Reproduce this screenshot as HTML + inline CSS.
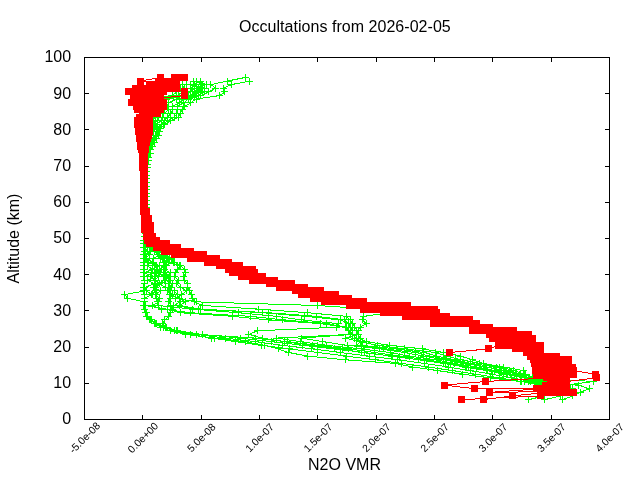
<!DOCTYPE html>
<html lang="en"><head><meta charset="utf-8"><title>Occultations from 2026-02-05</title>
<style>html,body{margin:0;padding:0;background:#fff}svg{display:block}text{font-family:"Liberation Sans",sans-serif;fill:#000}</style></head><body>
<svg width="640" height="480" viewBox="0 0 640 480">
<rect width="640" height="480" fill="#fff"/>
<g shape-rendering="crispEdges" fill="none" stroke-width="1">
<path stroke="#00ff00" d="M180.0 88.3L177.0 91.9L172.0 95.5L144.5 99.1L144.5 102.8L144.5 106.4L144.5 110.0L144.5 113.6L144.5 117.2L144.5 120.8L144.5 124.5L144.5 128.1L144.5 131.7L144.5 135.3L144.5 138.9L144.5 142.6L144.5 146.2L144.5 149.8L144.5 153.4L144.5 157.1L144.5 160.7L144.5 164.3L144.5 167.9L145.2 171.5L145.0 175.2L145.4 178.8L145.2 182.4L144.9 186.0L145.0 189.6L145.3 193.2L145.4 196.9L144.7 200.5L144.7 204.1L144.9 207.7L144.9 211.3L144.8 215.0L144.9 218.6L144.6 222.2L144.7 225.8L145.3 229.4L145.3 233.1L144.7 236.7L144.2 236.7L143.7 240.3L143.8 243.9L143.9 247.5L144.1 251.2L144.5 254.8L144.5 258.4L144.4 262.0L143.7 265.6L143.9 269.3L143.9 272.9L143.9 276.5L144.1 280.1L144.3 283.8L144.1 287.4L144.1 291.0L144.9 294.6L144.6 298.2L144.5 301.9L144.0 305.5L144.8 309.1L145.4 312.7L146.7 316.3L150.3 319.9L154.9 323.6L160.7 327.2L170.1 330.8L185.6 334.4L214.8 338.1L245.1 341.7L264.6 345.3L278.0 348.9L288.5 352.5L307.8 356.1L345.4 359.8L395.4 363.4L412.7 367.0L437.6 370.6L462.9 374.2L490.1 377.9L520.4 381.5L543.0 385.1L554.5 388.7L560.1 392.4L544.8 396.0L528.1 399.6M182.0 84.6L184.0 88.3L182.0 91.9L178.0 95.5L147.2 99.1L145.2 102.8L143.4 106.4L146.5 110.0L146.3 113.6L144.8 117.2L146.9 120.8L144.7 124.5L143.1 128.1L145.0 131.7L143.3 135.3L144.5 138.9L143.1 142.6L144.6 146.2L144.6 149.8L144.6 153.4L144.6 157.1L144.6 160.7L144.6 164.3L144.5 167.9L144.8 171.5L145.1 175.2L145.4 178.8L145.3 182.4L145.1 186.0L144.8 189.6L145.4 193.2L145.2 196.9L145.2 200.5L145.0 204.1L145.1 207.7L144.8 211.3L145.0 215.0L144.7 218.6L145.0 222.2L145.3 225.8L145.4 229.4L145.2 233.1L145.3 236.7L144.3 236.7L144.5 240.3L145.4 243.9L145.1 247.5L147.5 251.2L149.7 254.8L145.4 258.4L152.0 262.0L147.1 265.6L152.5 269.3L144.3 272.9L154.1 276.5L147.7 280.1L154.2 283.8L144.9 287.4L146.5 291.0L151.8 294.6L144.1 298.2L144.3 301.9L144.5 305.5L145.0 309.1L145.9 312.7L147.8 316.3L150.8 319.9L156.0 323.6L163.2 327.2L174.3 330.8L190.1 334.4L211.9 338.1L236.0 341.7L261.6 345.3L289.6 348.9L318.0 352.5L346.3 356.1L375.2 359.8L401.6 363.4L428.2 367.0L452.1 370.6L475.7 374.2L499.4 377.9L521.2 381.5L540.9 385.1L556.1 388.7L566.0 392.4L572.8 396.0L562.6 399.6M186.0 84.6L187.0 88.3L186.0 91.9L183.0 95.5L147.9 99.1L145.0 102.8L146.9 106.4L146.7 110.0L145.1 113.6L148.6 117.2L147.6 120.8L144.0 124.5L143.5 128.1L143.5 131.7L144.0 135.3L145.6 138.9L142.5 142.6L144.9 146.2L144.9 149.8L144.8 153.4L144.7 157.1L144.7 160.7L144.7 164.3L144.7 167.9L145.3 171.5L145.4 175.2L145.0 178.8L145.0 182.4L145.1 186.0L145.7 189.6L145.1 193.2L145.5 196.9L145.1 200.5L144.9 204.1L145.5 207.7L145.0 211.3L145.2 215.0L145.2 218.6L145.1 222.2L145.4 225.8L145.5 229.4L145.4 233.1L145.1 236.7L144.1 236.7L144.5 240.3L143.7 243.9L144.0 247.5L145.8 251.2L145.2 254.8L146.9 258.4L153.0 262.0L159.3 265.6L152.3 269.3L151.4 272.9L150.9 276.5L154.9 280.1L159.0 283.8L154.0 287.4L155.3 291.0L152.3 294.6L144.7 298.2L144.8 301.9L145.1 305.5L144.7 309.1L146.1 312.7L147.7 316.3L151.2 319.9L156.9 323.6L165.4 327.2L177.5 330.8L202.1 334.4L240.1 338.1L271.7 341.7L302.9 345.3L334.0 348.9L364.5 352.5L391.6 356.1L418.4 359.8L443.5 363.4L465.5 367.0L486.9 370.6L506.1 374.2L525.0 377.9L537.7 381.5L551.7 385.1L563.4 388.7L572.1 392.4M193.0 88.3L190.0 91.9L186.0 95.5L148.4 99.1L147.6 102.8L146.6 106.4L150.0 110.0L148.5 113.6L150.7 117.2L147.2 120.8L148.2 124.5L144.6 128.1L143.7 131.7L144.9 135.3L147.8 138.9L147.0 142.6L145.4 146.2L145.2 149.8L145.1 153.4L145.0 157.1L144.9 160.7L144.9 164.3L144.8 167.9L145.2 171.5L145.4 175.2L145.1 178.8L145.7 182.4L145.2 186.0L145.6 189.6L145.1 193.2L145.1 196.9L145.1 200.5L145.2 204.1L145.3 207.7L145.1 211.3L145.1 215.0L145.4 218.6L145.5 222.2L145.0 225.8L145.5 229.4L145.5 233.1L145.1 236.7L144.1 236.7L143.5 240.3L144.0 243.9L144.3 247.5L144.4 251.2L143.6 254.8L143.9 258.4L144.0 262.0L144.4 265.6L144.5 269.3L144.4 272.9L144.3 276.5L144.2 280.1L144.3 283.8L143.9 287.4L143.9 291.0L124.9 294.6L127.2 298.2L144.4 301.9L144.7 305.5L144.1 309.1L145.8 312.7L146.9 316.3L149.7 319.9L155.6 323.6L163.5 327.2L176.3 330.8L196.1 334.4L225.9 338.1L255.3 341.7L282.6 345.3L311.9 348.9L340.4 352.5L369.0 356.1L397.7 359.8L424.1 363.4L448.3 367.0L470.0 370.6L492.1 374.2L511.9 377.9L530.4 381.5L546.6 385.1L559.6 388.7M197.0 84.6L191.0 88.3L200.0 91.9L189.0 95.5L157.3 99.1L155.4 102.8L157.5 106.4L152.9 110.0L151.4 113.6L152.7 117.2L152.7 120.8L151.4 124.5L150.4 128.1L149.2 131.7L148.5 135.3L149.6 138.9L146.9 142.6L146.6 146.2L146.2 149.8L145.9 153.4L145.7 157.1L145.5 160.7L145.3 164.3L145.2 167.9L145.4 171.5L145.6 175.2L145.5 178.8L145.9 182.4L145.4 186.0L145.9 189.6L145.9 193.2L145.8 196.9L145.3 200.5L145.2 204.1L145.6 207.7L145.7 211.3L145.5 215.0L145.5 218.6L145.6 222.2L145.8 225.8L145.9 229.4L145.7 233.1L145.4 236.7L145.0 236.7L147.0 240.3L150.2 243.9L155.9 247.5L161.3 251.2L165.4 254.8L171.7 258.4L174.5 262.0L180.6 265.6L184.4 269.3L186.0 272.9L183.3 276.5L184.5 280.1L187.1 283.8L187.9 287.4L189.2 291.0L191.6 294.6L192.7 298.2L194.3 301.9L203.0 305.5L258.0 309.1L307.5 312.7L346.0 316.3L350.0 319.9L353.0 323.6L355.0 327.2L357.0 330.8L358.0 334.4L360.0 338.1L366.0 341.7L389.7 345.3L422.7 348.9L444.0 352.5L460.5 356.1L472.7 359.8L483.4 363.4L503.5 367.0L523.4 370.6L525.2 374.2L532.6 377.9L548.0 381.5L578.6 385.1L589.5 388.7L580.0 392.4L573.0 396.0L562.0 399.6M190.0 84.6L199.0 88.3L197.0 91.9L192.0 95.5L162.3 99.1L162.6 102.8L160.8 106.4L159.4 110.0L154.8 113.6L155.2 117.2L151.5 120.8L154.2 124.5L148.6 128.1L150.0 131.7L148.1 135.3L148.6 138.9L149.0 142.6L147.4 146.2L146.8 149.8L146.5 153.4L146.1 157.1L145.9 160.7L145.6 164.3L145.5 167.9L145.9 171.5L145.7 175.2L145.3 178.8L145.5 182.4L145.9 186.0L145.4 189.6L145.7 193.2L145.3 196.9L145.3 200.5L145.9 204.1L145.8 207.7L145.5 211.3L145.5 215.0L145.4 218.6L145.9 222.2L146.0 225.8L145.8 229.4L145.7 233.1L145.9 236.7L145.0 236.7L146.8 240.3L149.7 243.9L153.5 247.5L156.9 251.2L158.4 254.8L167.8 258.4L168.9 262.0L179.8 265.6L177.5 269.3L175.8 272.9L174.3 276.5L178.5 280.1L176.9 283.8L180.8 287.4L186.8 291.0L181.3 294.6L175.7 298.2L197.0 301.9L317.5 305.5L372.0 309.1L390.0 312.7L363.4 316.3L362.0 319.9L366.5 323.6L360.0 327.2L358.0 330.8L359.0 334.4L345.5 338.1L360.4 341.7L377.0 345.3L404.9 348.9L435.4 352.5L446.3 356.1L460.7 359.8L479.6 363.4L500.0 367.0L513.7 370.6L524.6 374.2L536.0 377.9L593.4 381.5L566.0 385.1L572.0 388.7L576.0 392.4M200.6 81.0L194.0 84.6L202.0 88.3L193.0 91.9L196.0 95.5L176.4 99.1L168.9 102.8L166.9 106.4L168.1 110.0L164.0 113.6L162.8 117.2L161.4 120.8L155.9 124.5L156.5 128.1L152.9 131.7L150.5 135.3L151.3 138.9L149.2 142.6L149.2 146.2L148.3 149.8L147.7 153.4L147.1 157.1L146.7 160.7L146.4 164.3L146.1 167.9L145.8 171.5L146.2 175.2L145.6 178.8L146.2 182.4L145.4 186.0L145.6 189.6L146.0 193.2L146.1 196.9L145.6 200.5L145.9 204.1L146.2 207.7L145.5 211.3L146.2 215.0L145.8 218.6L145.9 222.2L145.9 225.8L146.0 229.4L145.4 233.1L145.6 236.7L144.6 236.7L145.5 240.3L148.9 243.9L151.6 247.5L158.2 251.2L164.8 254.8L169.2 258.4L173.8 262.0L165.6 265.6L163.7 269.3L170.7 272.9L166.4 276.5L168.7 280.1L159.4 283.8L165.6 287.4L174.2 291.0L177.3 294.6L179.6 298.2L185.6 301.9L179.1 305.5L200.0 309.1L268.0 312.7L316.4 316.3L344.7 319.9L348.0 323.6L350.0 327.2L350.0 330.8L352.0 334.4L356.4 338.1L362.0 341.7L361.1 345.3L396.3 348.9L424.0 352.5L436.8 356.1L455.3 359.8L470.3 363.4L496.2 367.0L509.2 370.6L520.5 374.2L528.3 377.9L543.0 381.5L554.0 385.1L564.0 388.7L573.0 392.4L573.0 396.0M193.5 81.0L203.0 84.6L196.0 88.3L204.0 91.9L198.0 95.5L183.8 99.1L179.5 102.8L172.6 106.4L172.7 110.0L170.7 113.6L167.2 117.2L164.0 120.8L161.3 124.5L157.0 128.1L157.0 131.7L156.1 135.3L150.3 138.9L151.3 142.6L150.2 146.2L149.1 149.8L148.4 153.4L147.7 157.1L147.2 160.7L146.8 164.3L146.5 167.9L146.0 171.5L146.1 175.2L145.6 178.8L145.9 182.4L146.0 186.0L145.6 189.6L145.6 193.2L145.9 196.9L145.8 200.5L145.7 204.1L145.8 207.7L145.6 211.3L146.3 215.0L145.6 218.6L146.1 222.2L146.1 225.8L145.7 229.4L146.2 233.1L146.1 236.7L144.7 236.7L145.4 240.3L147.4 243.9L152.0 247.5L156.8 251.2L159.7 254.8L153.4 258.4L152.6 262.0L156.5 265.6L157.1 269.3L154.9 272.9L158.7 276.5L155.1 280.1L159.5 283.8L155.9 287.4L156.1 291.0L156.5 294.6L157.0 298.2L157.6 301.9L158.1 305.5L192.0 309.1L238.0 312.7L276.5 316.3L301.5 319.9L338.0 323.6L336.7 327.2L257.5 330.8L248.8 334.4L262.0 338.1L284.0 341.7L312.0 345.3L342.0 348.9L361.4 352.5L392.0 356.1L418.8 359.8L445.9 363.4L466.5 367.0L487.9 370.6L503.8 374.2L525.6 377.9L535.3 381.5L553.7 385.1L561.2 388.7L573.9 392.4M249.8 81.0L231.5 84.6L223.1 88.3L225.0 91.9L219.8 95.5L196.2 99.1L190.6 102.8L185.0 106.4L182.0 110.0L180.0 113.6L178.5 117.2L170.0 120.8L165.0 124.5L161.0 128.1L159.5 131.7L158.0 135.3L156.0 138.9L154.0 142.6L152.5 146.2L151.0 149.8L150.0 153.4L149.0 157.1L148.3 160.7L147.7 164.3L147.3 167.9L146.3 171.5L146.4 175.2L146.2 178.8L146.1 182.4L146.0 186.0L146.3 189.6L145.7 193.2L146.0 196.9L145.9 200.5L146.1 204.1L146.4 207.7L146.4 211.3L146.1 215.0L145.9 218.6L146.4 222.2L146.3 225.8L145.7 229.4L146.3 233.1L146.5 236.7L144.7 236.7L145.4 240.3L147.5 243.9L151.4 247.5L155.0 251.2L158.0 254.8L161.0 258.4L164.0 262.0L164.2 265.6L161.2 269.3L159.8 272.9L164.7 276.5L164.6 280.1L157.1 283.8L154.2 287.4L160.1 291.0L155.5 294.6L159.4 298.2L158.8 301.9L152.3 305.5L161.6 309.1L190.0 312.7L250.0 316.3L283.0 319.9L326.5 323.6L346.0 327.2L350.0 330.8L352.0 334.4L301.2 338.1L322.7 341.7L347.3 345.3L380.0 348.9L404.1 352.5L423.9 356.1L443.7 359.8L464.0 363.4L486.5 367.0L501.1 370.6L519.1 374.2L529.7 377.9L524.7 381.5L548.0 385.1L558.0 388.7L568.0 392.4M245.6 77.4L227.5 81.0L211.0 84.6L215.6 88.3L209.0 91.9L201.0 95.5L188.3 99.1L183.8 102.8L177.3 106.4L178.0 110.0L177.0 113.6L174.0 117.2L167.4 120.8L163.1 124.5L157.8 128.1L158.9 131.7L155.2 135.3L154.0 138.9L152.9 142.6L151.3 146.2L150.0 149.8L149.2 153.4L148.3 157.1L147.7 160.7L147.2 164.3L146.9 167.9L146.6 171.5L146.6 175.2L146.5 178.8L146.6 182.4L145.8 186.0L146.0 189.6L146.4 193.2L146.3 196.9L146.4 200.5L146.6 204.1L146.4 207.7L146.5 211.3L146.0 215.0L145.9 218.6L146.1 222.2L145.9 225.8L145.9 229.4L146.2 233.1L146.2 236.7L144.6 236.7L145.3 240.3L147.2 243.9L149.7 247.5L150.3 251.2L144.5 254.8L146.5 258.4L148.3 262.0L154.9 265.6L157.9 269.3L155.7 272.9L144.5 276.5L144.5 280.1L144.5 283.8L144.5 287.4L144.5 291.0L144.5 294.6L144.5 298.2L144.5 301.9L144.5 305.5L167.0 309.1L180.0 312.7L232.0 316.3L268.0 319.9L320.0 323.6L345.5 327.2L349.0 330.8L350.0 334.4L276.5 338.1L300.7 341.7L326.6 345.3L361.2 348.9L390.1 352.5L409.0 356.1L436.1 359.8L454.5 363.4L476.6 367.0L494.2 370.6L510.8 374.2L526.6 377.9L535.0 381.5L550.0 385.1L560.0 388.7L570.0 392.4L560.0 396.0L545.0 399.6M200.0 84.6L204.0 88.3L195.0 91.9L194.0 95.5L152.5 99.1L152.0 102.8L151.9 106.4L150.4 110.0L150.1 113.6L152.9 117.2L149.8 120.8L147.3 124.5L149.5 128.1L149.5 131.7L145.6 135.3L146.2 138.9L144.6 142.6L145.9 146.2L145.7 149.8L145.5 153.4L145.3 157.1L145.2 160.7L145.1 164.3L145.0 167.9L146.3 171.5L146.2 175.2L146.7 178.8L146.6 182.4L146.2 186.0L146.1 189.6L146.3 193.2L146.7 196.9L146.2 200.5L146.0 204.1L146.5 207.7L146.5 211.3L146.7 215.0L146.3 218.6L146.2 222.2L146.4 225.8L146.3 229.4L146.4 233.1L146.3 236.7L144.8 236.7L146.3 240.3L148.4 243.9L152.3 247.5L154.5 251.2L161.1 254.8L162.3 258.4L166.5 262.0L164.1 265.6L160.0 269.3L156.9 272.9L163.5 276.5L171.0 280.1L169.5 283.8L171.5 287.4L170.0 291.0L172.0 294.6L170.5 298.2L169.0 301.9L171.0 305.5L172.0 309.1L170.0 312.7L169.0 316.3L165.0 319.9L162.0 323.6L166.0 327.2L176.0 330.8L196.0 334.4L255.6 338.1L287.1 341.7L317.5 345.3L348.8 348.9L374.3 352.5L400.0 356.1L426.3 359.8L450.7 363.4L468.9 367.0L491.2 370.6L507.0 374.2L527.0 377.9L528.0 381.5L545.0 385.1L557.0 388.7L570.0 392.4M197.0 81.0L206.0 84.6L199.0 88.3L202.0 91.9L190.0 95.5L166.6 99.1L164.2 102.8L164.3 106.4L164.3 110.0L159.9 113.6L158.9 117.2L157.1 120.8L153.5 124.5L153.8 128.1L153.6 131.7L150.4 135.3L150.0 138.9L149.2 142.6L148.2 146.2L147.5 149.8L147.1 153.4L146.6 157.1L146.3 160.7L146.0 164.3L145.8 167.9L146.6 171.5L146.5 175.2L146.2 178.8L146.2 182.4L146.6 186.0L146.4 189.6L146.2 193.2L146.3 196.9L146.5 200.5L146.8 204.1L146.4 207.7L146.3 211.3L146.3 215.0L146.1 218.6L146.9 222.2L146.5 225.8L146.2 229.4L146.6 233.1L146.5 236.7L144.8 236.7L146.5 240.3L150.4 243.9L153.9 247.5L158.8 251.2L162.9 254.8L163.6 258.4L163.9 262.0L166.3 265.6L164.8 269.3L165.2 272.9L169.2 276.5L165.8 280.1L172.6 283.8L168.6 287.4L167.8 291.0L169.9 294.6L179.1 298.2L180.1 301.9L173.8 305.5L198.0 309.1L262.0 312.7L305.0 316.3L340.0 319.9L349.0 323.6L351.0 327.2L352.0 330.8L353.0 334.4L355.0 338.1L360.0 341.7L356.9 345.3L383.8 348.9L415.6 352.5L429.6 356.1L450.3 359.8L467.3 363.4L486.6 367.0L505.0 370.6L516.2 374.2L529.9 377.9L545.0 381.5L560.0 385.1L570.0 388.7L577.0 392.4"/>
<path stroke="#00ff00" d="M177.0 88.5h7M180.5 85.0v7M173.0 91.5h7M176.5 88.0v7M169.0 95.5h7M172.5 92.0v7M141.0 99.5h7M144.5 96.0v7M141.0 102.5h7M144.5 99.0v7M141.0 106.5h7M144.5 103.0v7M141.0 109.5h7M144.5 106.0v7M141.0 113.5h7M144.5 110.0v7M141.0 117.5h7M144.5 114.0v7M141.0 120.5h7M144.5 117.0v7M141.0 124.5h7M144.5 121.0v7M141.0 128.5h7M144.5 125.0v7M141.0 131.5h7M144.5 128.0v7M141.0 135.5h7M144.5 132.0v7M141.0 138.5h7M144.5 135.0v7M141.0 142.5h7M144.5 139.0v7M141.0 146.5h7M144.5 143.0v7M141.0 149.5h7M144.5 146.0v7M141.0 153.5h7M144.5 150.0v7M141.0 157.5h7M144.5 154.0v7M141.0 160.5h7M144.5 157.0v7M141.0 164.5h7M144.5 161.0v7M141.0 167.5h7M144.5 164.0v7M142.0 171.5h7M145.5 168.0v7M142.0 175.5h7M145.5 172.0v7M142.0 178.5h7M145.5 175.0v7M142.0 182.5h7M145.5 179.0v7M141.0 186.5h7M144.5 183.0v7M142.0 189.5h7M145.5 186.0v7M142.0 193.5h7M145.5 190.0v7M142.0 196.5h7M145.5 193.0v7M141.0 200.5h7M144.5 197.0v7M141.0 204.5h7M144.5 201.0v7M141.0 207.5h7M144.5 204.0v7M141.0 211.5h7M144.5 208.0v7M141.0 214.5h7M144.5 211.0v7M141.0 218.5h7M144.5 215.0v7M141.0 222.5h7M144.5 219.0v7M141.0 225.5h7M144.5 222.0v7M142.0 229.5h7M145.5 226.0v7M142.0 233.5h7M145.5 230.0v7M141.0 236.5h7M144.5 233.0v7M141.0 236.5h7M144.5 233.0v7M140.0 240.5h7M143.5 237.0v7M140.0 243.5h7M143.5 240.0v7M140.0 247.5h7M143.5 244.0v7M141.0 251.5h7M144.5 248.0v7M141.0 254.5h7M144.5 251.0v7M141.0 258.5h7M144.5 255.0v7M141.0 262.5h7M144.5 259.0v7M140.0 265.5h7M143.5 262.0v7M140.0 269.5h7M143.5 266.0v7M140.0 272.5h7M143.5 269.0v7M140.0 276.5h7M143.5 273.0v7M141.0 280.5h7M144.5 277.0v7M141.0 283.5h7M144.5 280.0v7M141.0 287.5h7M144.5 284.0v7M141.0 290.5h7M144.5 287.0v7M141.0 294.5h7M144.5 291.0v7M141.0 298.5h7M144.5 295.0v7M141.0 301.5h7M144.5 298.0v7M140.0 305.5h7M143.5 302.0v7M141.0 309.5h7M144.5 306.0v7M142.0 312.5h7M145.5 309.0v7M143.0 316.5h7M146.5 313.0v7M147.0 319.5h7M150.5 316.0v7M151.0 323.5h7M154.5 320.0v7M157.0 327.5h7M160.5 324.0v7M167.0 330.5h7M170.5 327.0v7M182.0 334.5h7M185.5 331.0v7M211.0 338.5h7M214.5 335.0v7M242.0 341.5h7M245.5 338.0v7M261.0 345.5h7M264.5 342.0v7M275.0 348.5h7M278.5 345.0v7M285.0 352.5h7M288.5 349.0v7M304.0 356.5h7M307.5 353.0v7M342.0 359.5h7M345.5 356.0v7M392.0 363.5h7M395.5 360.0v7M409.0 367.5h7M412.5 364.0v7M434.0 370.5h7M437.5 367.0v7M459.0 374.5h7M462.5 371.0v7M487.0 377.5h7M490.5 374.0v7M517.0 381.5h7M520.5 378.0v7M540.0 385.5h7M543.5 382.0v7M551.0 388.5h7M554.5 385.0v7M557.0 392.5h7M560.5 389.0v7M541.0 395.5h7M544.5 392.0v7M525.0 399.5h7M528.5 396.0v7M179.0 84.5h7M182.5 81.0v7M181.0 88.5h7M184.5 85.0v7M179.0 91.5h7M182.5 88.0v7M175.0 95.5h7M178.5 92.0v7M144.0 99.5h7M147.5 96.0v7M142.0 102.5h7M145.5 99.0v7M140.0 106.5h7M143.5 103.0v7M143.0 109.5h7M146.5 106.0v7M143.0 113.5h7M146.5 110.0v7M141.0 117.5h7M144.5 114.0v7M143.0 120.5h7M146.5 117.0v7M141.0 124.5h7M144.5 121.0v7M140.0 128.5h7M143.5 125.0v7M141.0 131.5h7M144.5 128.0v7M140.0 135.5h7M143.5 132.0v7M141.0 138.5h7M144.5 135.0v7M140.0 142.5h7M143.5 139.0v7M141.0 146.5h7M144.5 143.0v7M141.0 149.5h7M144.5 146.0v7M141.0 153.5h7M144.5 150.0v7M141.0 157.5h7M144.5 154.0v7M141.0 160.5h7M144.5 157.0v7M141.0 164.5h7M144.5 161.0v7M141.0 167.5h7M144.5 164.0v7M141.0 171.5h7M144.5 168.0v7M142.0 175.5h7M145.5 172.0v7M142.0 178.5h7M145.5 175.0v7M142.0 182.5h7M145.5 179.0v7M142.0 186.5h7M145.5 183.0v7M141.0 189.5h7M144.5 186.0v7M142.0 193.5h7M145.5 190.0v7M142.0 196.5h7M145.5 193.0v7M142.0 200.5h7M145.5 197.0v7M142.0 204.5h7M145.5 201.0v7M142.0 207.5h7M145.5 204.0v7M141.0 211.5h7M144.5 208.0v7M141.0 214.5h7M144.5 211.0v7M141.0 218.5h7M144.5 215.0v7M141.0 222.5h7M144.5 219.0v7M142.0 225.5h7M145.5 222.0v7M142.0 229.5h7M145.5 226.0v7M142.0 233.5h7M145.5 230.0v7M142.0 236.5h7M145.5 233.0v7M141.0 236.5h7M144.5 233.0v7M141.0 240.5h7M144.5 237.0v7M142.0 243.5h7M145.5 240.0v7M142.0 247.5h7M145.5 244.0v7M144.0 251.5h7M147.5 248.0v7M146.0 254.5h7M149.5 251.0v7M142.0 258.5h7M145.5 255.0v7M149.0 262.5h7M152.5 259.0v7M144.0 265.5h7M147.5 262.0v7M149.0 269.5h7M152.5 266.0v7M141.0 272.5h7M144.5 269.0v7M151.0 276.5h7M154.5 273.0v7M144.0 280.5h7M147.5 277.0v7M151.0 283.5h7M154.5 280.0v7M141.0 287.5h7M144.5 284.0v7M143.0 290.5h7M146.5 287.0v7M148.0 294.5h7M151.5 291.0v7M141.0 298.5h7M144.5 295.0v7M141.0 301.5h7M144.5 298.0v7M141.0 305.5h7M144.5 302.0v7M141.0 309.5h7M144.5 306.0v7M142.0 312.5h7M145.5 309.0v7M144.0 316.5h7M147.5 313.0v7M147.0 319.5h7M150.5 316.0v7M153.0 323.5h7M156.5 320.0v7M160.0 327.5h7M163.5 324.0v7M171.0 330.5h7M174.5 327.0v7M187.0 334.5h7M190.5 331.0v7M208.0 338.5h7M211.5 335.0v7M232.0 341.5h7M235.5 338.0v7M258.0 345.5h7M261.5 342.0v7M286.0 348.5h7M289.5 345.0v7M314.0 352.5h7M317.5 349.0v7M343.0 356.5h7M346.5 353.0v7M372.0 359.5h7M375.5 356.0v7M398.0 363.5h7M401.5 360.0v7M425.0 367.5h7M428.5 364.0v7M449.0 370.5h7M452.5 367.0v7M472.0 374.5h7M475.5 371.0v7M496.0 377.5h7M499.5 374.0v7M518.0 381.5h7M521.5 378.0v7M537.0 385.5h7M540.5 382.0v7M553.0 388.5h7M556.5 385.0v7M563.0 392.5h7M566.5 389.0v7M569.0 395.5h7M572.5 392.0v7M559.0 399.5h7M562.5 396.0v7M183.0 84.5h7M186.5 81.0v7M183.0 88.5h7M186.5 85.0v7M183.0 91.5h7M186.5 88.0v7M179.0 95.5h7M182.5 92.0v7M144.0 99.5h7M147.5 96.0v7M141.0 102.5h7M144.5 99.0v7M143.0 106.5h7M146.5 103.0v7M143.0 109.5h7M146.5 106.0v7M142.0 113.5h7M145.5 110.0v7M145.0 117.5h7M148.5 114.0v7M144.0 120.5h7M147.5 117.0v7M141.0 124.5h7M144.5 121.0v7M140.0 128.5h7M143.5 125.0v7M140.0 131.5h7M143.5 128.0v7M141.0 135.5h7M144.5 132.0v7M142.0 138.5h7M145.5 135.0v7M139.0 142.5h7M142.5 139.0v7M141.0 146.5h7M144.5 143.0v7M141.0 149.5h7M144.5 146.0v7M141.0 153.5h7M144.5 150.0v7M141.0 157.5h7M144.5 154.0v7M141.0 160.5h7M144.5 157.0v7M141.0 164.5h7M144.5 161.0v7M141.0 167.5h7M144.5 164.0v7M142.0 171.5h7M145.5 168.0v7M142.0 175.5h7M145.5 172.0v7M141.0 178.5h7M144.5 175.0v7M141.0 182.5h7M144.5 179.0v7M142.0 186.5h7M145.5 183.0v7M142.0 189.5h7M145.5 186.0v7M142.0 193.5h7M145.5 190.0v7M142.0 196.5h7M145.5 193.0v7M142.0 200.5h7M145.5 197.0v7M141.0 204.5h7M144.5 201.0v7M142.0 207.5h7M145.5 204.0v7M141.0 211.5h7M144.5 208.0v7M142.0 214.5h7M145.5 211.0v7M142.0 218.5h7M145.5 215.0v7M142.0 222.5h7M145.5 219.0v7M142.0 225.5h7M145.5 222.0v7M142.0 229.5h7M145.5 226.0v7M142.0 233.5h7M145.5 230.0v7M142.0 236.5h7M145.5 233.0v7M141.0 236.5h7M144.5 233.0v7M141.0 240.5h7M144.5 237.0v7M140.0 243.5h7M143.5 240.0v7M140.0 247.5h7M143.5 244.0v7M142.0 251.5h7M145.5 248.0v7M142.0 254.5h7M145.5 251.0v7M143.0 258.5h7M146.5 255.0v7M150.0 262.5h7M153.5 259.0v7M156.0 265.5h7M159.5 262.0v7M149.0 269.5h7M152.5 266.0v7M148.0 272.5h7M151.5 269.0v7M147.0 276.5h7M150.5 273.0v7M151.0 280.5h7M154.5 277.0v7M156.0 283.5h7M159.5 280.0v7M150.0 287.5h7M153.5 284.0v7M152.0 290.5h7M155.5 287.0v7M149.0 294.5h7M152.5 291.0v7M141.0 298.5h7M144.5 295.0v7M141.0 301.5h7M144.5 298.0v7M142.0 305.5h7M145.5 302.0v7M141.0 309.5h7M144.5 306.0v7M143.0 312.5h7M146.5 309.0v7M144.0 316.5h7M147.5 313.0v7M148.0 319.5h7M151.5 316.0v7M153.0 323.5h7M156.5 320.0v7M162.0 327.5h7M165.5 324.0v7M174.0 330.5h7M177.5 327.0v7M199.0 334.5h7M202.5 331.0v7M237.0 338.5h7M240.5 335.0v7M268.0 341.5h7M271.5 338.0v7M299.0 345.5h7M302.5 342.0v7M331.0 348.5h7M334.5 345.0v7M361.0 352.5h7M364.5 349.0v7M388.0 356.5h7M391.5 353.0v7M415.0 359.5h7M418.5 356.0v7M440.0 363.5h7M443.5 360.0v7M462.0 367.5h7M465.5 364.0v7M483.0 370.5h7M486.5 367.0v7M503.0 374.5h7M506.5 371.0v7M521.0 377.5h7M524.5 374.0v7M534.0 381.5h7M537.5 378.0v7M548.0 385.5h7M551.5 382.0v7M560.0 388.5h7M563.5 385.0v7M569.0 392.5h7M572.5 389.0v7M189.0 88.5h7M192.5 85.0v7M187.0 91.5h7M190.5 88.0v7M183.0 95.5h7M186.5 92.0v7M145.0 99.5h7M148.5 96.0v7M144.0 102.5h7M147.5 99.0v7M143.0 106.5h7M146.5 103.0v7M147.0 109.5h7M150.5 106.0v7M145.0 113.5h7M148.5 110.0v7M147.0 117.5h7M150.5 114.0v7M144.0 120.5h7M147.5 117.0v7M145.0 124.5h7M148.5 121.0v7M141.0 128.5h7M144.5 125.0v7M140.0 131.5h7M143.5 128.0v7M141.0 135.5h7M144.5 132.0v7M144.0 138.5h7M147.5 135.0v7M144.0 142.5h7M147.5 139.0v7M142.0 146.5h7M145.5 143.0v7M142.0 149.5h7M145.5 146.0v7M142.0 153.5h7M145.5 150.0v7M141.0 157.5h7M144.5 154.0v7M141.0 160.5h7M144.5 157.0v7M141.0 164.5h7M144.5 161.0v7M141.0 167.5h7M144.5 164.0v7M142.0 171.5h7M145.5 168.0v7M142.0 175.5h7M145.5 172.0v7M142.0 178.5h7M145.5 175.0v7M142.0 182.5h7M145.5 179.0v7M142.0 186.5h7M145.5 183.0v7M142.0 189.5h7M145.5 186.0v7M142.0 193.5h7M145.5 190.0v7M142.0 196.5h7M145.5 193.0v7M142.0 200.5h7M145.5 197.0v7M142.0 204.5h7M145.5 201.0v7M142.0 207.5h7M145.5 204.0v7M142.0 211.5h7M145.5 208.0v7M142.0 214.5h7M145.5 211.0v7M142.0 218.5h7M145.5 215.0v7M142.0 222.5h7M145.5 219.0v7M142.0 225.5h7M145.5 222.0v7M142.0 229.5h7M145.5 226.0v7M142.0 233.5h7M145.5 230.0v7M142.0 236.5h7M145.5 233.0v7M141.0 236.5h7M144.5 233.0v7M140.0 240.5h7M143.5 237.0v7M140.0 243.5h7M143.5 240.0v7M141.0 247.5h7M144.5 244.0v7M141.0 251.5h7M144.5 248.0v7M140.0 254.5h7M143.5 251.0v7M140.0 258.5h7M143.5 255.0v7M140.0 262.5h7M143.5 259.0v7M141.0 265.5h7M144.5 262.0v7M141.0 269.5h7M144.5 266.0v7M141.0 272.5h7M144.5 269.0v7M141.0 276.5h7M144.5 273.0v7M141.0 280.5h7M144.5 277.0v7M141.0 283.5h7M144.5 280.0v7M140.0 287.5h7M143.5 284.0v7M140.0 290.5h7M143.5 287.0v7M121.0 294.5h7M124.5 291.0v7M124.0 298.5h7M127.5 295.0v7M141.0 301.5h7M144.5 298.0v7M141.0 305.5h7M144.5 302.0v7M141.0 309.5h7M144.5 306.0v7M142.0 312.5h7M145.5 309.0v7M143.0 316.5h7M146.5 313.0v7M146.0 319.5h7M149.5 316.0v7M152.0 323.5h7M155.5 320.0v7M160.0 327.5h7M163.5 324.0v7M173.0 330.5h7M176.5 327.0v7M193.0 334.5h7M196.5 331.0v7M222.0 338.5h7M225.5 335.0v7M252.0 341.5h7M255.5 338.0v7M279.0 345.5h7M282.5 342.0v7M308.0 348.5h7M311.5 345.0v7M337.0 352.5h7M340.5 349.0v7M366.0 356.5h7M369.5 353.0v7M394.0 359.5h7M397.5 356.0v7M421.0 363.5h7M424.5 360.0v7M445.0 367.5h7M448.5 364.0v7M467.0 370.5h7M470.5 367.0v7M489.0 374.5h7M492.5 371.0v7M508.0 377.5h7M511.5 374.0v7M527.0 381.5h7M530.5 378.0v7M543.0 385.5h7M546.5 382.0v7M556.0 388.5h7M559.5 385.0v7M193.0 84.5h7M196.5 81.0v7M187.0 88.5h7M190.5 85.0v7M197.0 91.5h7M200.5 88.0v7M185.0 95.5h7M188.5 92.0v7M154.0 99.5h7M157.5 96.0v7M152.0 102.5h7M155.5 99.0v7M154.0 106.5h7M157.5 103.0v7M149.0 109.5h7M152.5 106.0v7M148.0 113.5h7M151.5 110.0v7M149.0 117.5h7M152.5 114.0v7M149.0 120.5h7M152.5 117.0v7M148.0 124.5h7M151.5 121.0v7M147.0 128.5h7M150.5 125.0v7M146.0 131.5h7M149.5 128.0v7M145.0 135.5h7M148.5 132.0v7M146.0 138.5h7M149.5 135.0v7M143.0 142.5h7M146.5 139.0v7M143.0 146.5h7M146.5 143.0v7M143.0 149.5h7M146.5 146.0v7M142.0 153.5h7M145.5 150.0v7M142.0 157.5h7M145.5 154.0v7M142.0 160.5h7M145.5 157.0v7M142.0 164.5h7M145.5 161.0v7M142.0 167.5h7M145.5 164.0v7M142.0 171.5h7M145.5 168.0v7M142.0 175.5h7M145.5 172.0v7M142.0 178.5h7M145.5 175.0v7M142.0 182.5h7M145.5 179.0v7M142.0 186.5h7M145.5 183.0v7M142.0 189.5h7M145.5 186.0v7M142.0 193.5h7M145.5 190.0v7M142.0 196.5h7M145.5 193.0v7M142.0 200.5h7M145.5 197.0v7M142.0 204.5h7M145.5 201.0v7M142.0 207.5h7M145.5 204.0v7M142.0 211.5h7M145.5 208.0v7M142.0 214.5h7M145.5 211.0v7M142.0 218.5h7M145.5 215.0v7M142.0 222.5h7M145.5 219.0v7M142.0 225.5h7M145.5 222.0v7M142.0 229.5h7M145.5 226.0v7M142.0 233.5h7M145.5 230.0v7M142.0 236.5h7M145.5 233.0v7M141.0 236.5h7M144.5 233.0v7M143.0 240.5h7M146.5 237.0v7M147.0 243.5h7M150.5 240.0v7M152.0 247.5h7M155.5 244.0v7M158.0 251.5h7M161.5 248.0v7M162.0 254.5h7M165.5 251.0v7M168.0 258.5h7M171.5 255.0v7M171.0 262.5h7M174.5 259.0v7M177.0 265.5h7M180.5 262.0v7M181.0 269.5h7M184.5 266.0v7M182.0 272.5h7M185.5 269.0v7M180.0 276.5h7M183.5 273.0v7M181.0 280.5h7M184.5 277.0v7M184.0 283.5h7M187.5 280.0v7M184.0 287.5h7M187.5 284.0v7M186.0 290.5h7M189.5 287.0v7M188.0 294.5h7M191.5 291.0v7M189.0 298.5h7M192.5 295.0v7M191.0 301.5h7M194.5 298.0v7M199.0 305.5h7M202.5 302.0v7M255.0 309.5h7M258.5 306.0v7M304.0 312.5h7M307.5 309.0v7M343.0 316.5h7M346.5 313.0v7M347.0 319.5h7M350.5 316.0v7M349.0 323.5h7M352.5 320.0v7M351.0 327.5h7M354.5 324.0v7M353.0 330.5h7M356.5 327.0v7M355.0 334.5h7M358.5 331.0v7M357.0 338.5h7M360.5 335.0v7M363.0 341.5h7M366.5 338.0v7M386.0 345.5h7M389.5 342.0v7M419.0 348.5h7M422.5 345.0v7M440.0 352.5h7M443.5 349.0v7M457.0 356.5h7M460.5 353.0v7M469.0 359.5h7M472.5 356.0v7M480.0 363.5h7M483.5 360.0v7M500.0 367.5h7M503.5 364.0v7M520.0 370.5h7M523.5 367.0v7M522.0 374.5h7M525.5 371.0v7M529.0 377.5h7M532.5 374.0v7M545.0 381.5h7M548.5 378.0v7M575.0 385.5h7M578.5 382.0v7M586.0 388.5h7M589.5 385.0v7M577.0 392.5h7M580.5 389.0v7M569.0 395.5h7M572.5 392.0v7M559.0 399.5h7M562.5 396.0v7M187.0 84.5h7M190.5 81.0v7M195.0 88.5h7M198.5 85.0v7M193.0 91.5h7M196.5 88.0v7M189.0 95.5h7M192.5 92.0v7M159.0 99.5h7M162.5 96.0v7M159.0 102.5h7M162.5 99.0v7M157.0 106.5h7M160.5 103.0v7M156.0 109.5h7M159.5 106.0v7M151.0 113.5h7M154.5 110.0v7M152.0 117.5h7M155.5 114.0v7M148.0 120.5h7M151.5 117.0v7M151.0 124.5h7M154.5 121.0v7M145.0 128.5h7M148.5 125.0v7M146.0 131.5h7M149.5 128.0v7M145.0 135.5h7M148.5 132.0v7M145.0 138.5h7M148.5 135.0v7M146.0 142.5h7M149.5 139.0v7M144.0 146.5h7M147.5 143.0v7M143.0 149.5h7M146.5 146.0v7M143.0 153.5h7M146.5 150.0v7M143.0 157.5h7M146.5 154.0v7M142.0 160.5h7M145.5 157.0v7M142.0 164.5h7M145.5 161.0v7M142.0 167.5h7M145.5 164.0v7M142.0 171.5h7M145.5 168.0v7M142.0 175.5h7M145.5 172.0v7M142.0 178.5h7M145.5 175.0v7M142.0 182.5h7M145.5 179.0v7M142.0 186.5h7M145.5 183.0v7M142.0 189.5h7M145.5 186.0v7M142.0 193.5h7M145.5 190.0v7M142.0 196.5h7M145.5 193.0v7M142.0 200.5h7M145.5 197.0v7M142.0 204.5h7M145.5 201.0v7M142.0 207.5h7M145.5 204.0v7M142.0 211.5h7M145.5 208.0v7M142.0 214.5h7M145.5 211.0v7M142.0 218.5h7M145.5 215.0v7M142.0 222.5h7M145.5 219.0v7M142.0 225.5h7M145.5 222.0v7M142.0 229.5h7M145.5 226.0v7M142.0 233.5h7M145.5 230.0v7M142.0 236.5h7M145.5 233.0v7M141.0 236.5h7M144.5 233.0v7M143.0 240.5h7M146.5 237.0v7M146.0 243.5h7M149.5 240.0v7M150.0 247.5h7M153.5 244.0v7M153.0 251.5h7M156.5 248.0v7M155.0 254.5h7M158.5 251.0v7M164.0 258.5h7M167.5 255.0v7M165.0 262.5h7M168.5 259.0v7M176.0 265.5h7M179.5 262.0v7M174.0 269.5h7M177.5 266.0v7M172.0 272.5h7M175.5 269.0v7M171.0 276.5h7M174.5 273.0v7M175.0 280.5h7M178.5 277.0v7M173.0 283.5h7M176.5 280.0v7M177.0 287.5h7M180.5 284.0v7M183.0 290.5h7M186.5 287.0v7M178.0 294.5h7M181.5 291.0v7M172.0 298.5h7M175.5 295.0v7M193.0 301.5h7M196.5 298.0v7M314.0 305.5h7M317.5 302.0v7M369.0 309.5h7M372.5 306.0v7M387.0 312.5h7M390.5 309.0v7M360.0 316.5h7M363.5 313.0v7M359.0 319.5h7M362.5 316.0v7M363.0 323.5h7M366.5 320.0v7M357.0 327.5h7M360.5 324.0v7M355.0 330.5h7M358.5 327.0v7M355.0 334.5h7M358.5 331.0v7M342.0 338.5h7M345.5 335.0v7M357.0 341.5h7M360.5 338.0v7M374.0 345.5h7M377.5 342.0v7M401.0 348.5h7M404.5 345.0v7M432.0 352.5h7M435.5 349.0v7M443.0 356.5h7M446.5 353.0v7M457.0 359.5h7M460.5 356.0v7M476.0 363.5h7M479.5 360.0v7M496.0 367.5h7M499.5 364.0v7M510.0 370.5h7M513.5 367.0v7M521.0 374.5h7M524.5 371.0v7M533.0 377.5h7M536.5 374.0v7M590.0 381.5h7M593.5 378.0v7M563.0 385.5h7M566.5 382.0v7M569.0 388.5h7M572.5 385.0v7M573.0 392.5h7M576.5 389.0v7M197.0 81.5h7M200.5 78.0v7M191.0 84.5h7M194.5 81.0v7M199.0 88.5h7M202.5 85.0v7M189.0 91.5h7M192.5 88.0v7M193.0 95.5h7M196.5 92.0v7M173.0 99.5h7M176.5 96.0v7M165.0 102.5h7M168.5 99.0v7M163.0 106.5h7M166.5 103.0v7M165.0 109.5h7M168.5 106.0v7M160.0 113.5h7M163.5 110.0v7M159.0 117.5h7M162.5 114.0v7M158.0 120.5h7M161.5 117.0v7M152.0 124.5h7M155.5 121.0v7M153.0 128.5h7M156.5 125.0v7M149.0 131.5h7M152.5 128.0v7M147.0 135.5h7M150.5 132.0v7M148.0 138.5h7M151.5 135.0v7M146.0 142.5h7M149.5 139.0v7M146.0 146.5h7M149.5 143.0v7M145.0 149.5h7M148.5 146.0v7M144.0 153.5h7M147.5 150.0v7M144.0 157.5h7M147.5 154.0v7M143.0 160.5h7M146.5 157.0v7M143.0 164.5h7M146.5 161.0v7M143.0 167.5h7M146.5 164.0v7M142.0 171.5h7M145.5 168.0v7M143.0 175.5h7M146.5 172.0v7M142.0 178.5h7M145.5 175.0v7M143.0 182.5h7M146.5 179.0v7M142.0 186.5h7M145.5 183.0v7M142.0 189.5h7M145.5 186.0v7M142.0 193.5h7M145.5 190.0v7M143.0 196.5h7M146.5 193.0v7M142.0 200.5h7M145.5 197.0v7M142.0 204.5h7M145.5 201.0v7M143.0 207.5h7M146.5 204.0v7M142.0 211.5h7M145.5 208.0v7M143.0 214.5h7M146.5 211.0v7M142.0 218.5h7M145.5 215.0v7M142.0 222.5h7M145.5 219.0v7M142.0 225.5h7M145.5 222.0v7M142.0 229.5h7M145.5 226.0v7M142.0 233.5h7M145.5 230.0v7M142.0 236.5h7M145.5 233.0v7M141.0 236.5h7M144.5 233.0v7M142.0 240.5h7M145.5 237.0v7M145.0 243.5h7M148.5 240.0v7M148.0 247.5h7M151.5 244.0v7M155.0 251.5h7M158.5 248.0v7M161.0 254.5h7M164.5 251.0v7M166.0 258.5h7M169.5 255.0v7M170.0 262.5h7M173.5 259.0v7M162.0 265.5h7M165.5 262.0v7M160.0 269.5h7M163.5 266.0v7M167.0 272.5h7M170.5 269.0v7M163.0 276.5h7M166.5 273.0v7M165.0 280.5h7M168.5 277.0v7M156.0 283.5h7M159.5 280.0v7M162.0 287.5h7M165.5 284.0v7M171.0 290.5h7M174.5 287.0v7M174.0 294.5h7M177.5 291.0v7M176.0 298.5h7M179.5 295.0v7M182.0 301.5h7M185.5 298.0v7M176.0 305.5h7M179.5 302.0v7M197.0 309.5h7M200.5 306.0v7M265.0 312.5h7M268.5 309.0v7M313.0 316.5h7M316.5 313.0v7M341.0 319.5h7M344.5 316.0v7M345.0 323.5h7M348.5 320.0v7M347.0 327.5h7M350.5 324.0v7M347.0 330.5h7M350.5 327.0v7M349.0 334.5h7M352.5 331.0v7M353.0 338.5h7M356.5 335.0v7M359.0 341.5h7M362.5 338.0v7M358.0 345.5h7M361.5 342.0v7M393.0 348.5h7M396.5 345.0v7M420.0 352.5h7M423.5 349.0v7M433.0 356.5h7M436.5 353.0v7M452.0 359.5h7M455.5 356.0v7M467.0 363.5h7M470.5 360.0v7M493.0 367.5h7M496.5 364.0v7M506.0 370.5h7M509.5 367.0v7M517.0 374.5h7M520.5 371.0v7M525.0 377.5h7M528.5 374.0v7M539.0 381.5h7M542.5 378.0v7M551.0 385.5h7M554.5 382.0v7M561.0 388.5h7M564.5 385.0v7M569.0 392.5h7M572.5 389.0v7M569.0 395.5h7M572.5 392.0v7M190.0 81.5h7M193.5 78.0v7M199.0 84.5h7M202.5 81.0v7M193.0 88.5h7M196.5 85.0v7M201.0 91.5h7M204.5 88.0v7M195.0 95.5h7M198.5 92.0v7M180.0 99.5h7M183.5 96.0v7M176.0 102.5h7M179.5 99.0v7M169.0 106.5h7M172.5 103.0v7M169.0 109.5h7M172.5 106.0v7M167.0 113.5h7M170.5 110.0v7M164.0 117.5h7M167.5 114.0v7M161.0 120.5h7M164.5 117.0v7M158.0 124.5h7M161.5 121.0v7M154.0 128.5h7M157.5 125.0v7M154.0 131.5h7M157.5 128.0v7M153.0 135.5h7M156.5 132.0v7M147.0 138.5h7M150.5 135.0v7M148.0 142.5h7M151.5 139.0v7M147.0 146.5h7M150.5 143.0v7M146.0 149.5h7M149.5 146.0v7M145.0 153.5h7M148.5 150.0v7M144.0 157.5h7M147.5 154.0v7M144.0 160.5h7M147.5 157.0v7M143.0 164.5h7M146.5 161.0v7M143.0 167.5h7M146.5 164.0v7M143.0 171.5h7M146.5 168.0v7M143.0 175.5h7M146.5 172.0v7M142.0 178.5h7M145.5 175.0v7M142.0 182.5h7M145.5 179.0v7M142.0 186.5h7M145.5 183.0v7M142.0 189.5h7M145.5 186.0v7M142.0 193.5h7M145.5 190.0v7M142.0 196.5h7M145.5 193.0v7M142.0 200.5h7M145.5 197.0v7M142.0 204.5h7M145.5 201.0v7M142.0 207.5h7M145.5 204.0v7M142.0 211.5h7M145.5 208.0v7M143.0 214.5h7M146.5 211.0v7M142.0 218.5h7M145.5 215.0v7M143.0 222.5h7M146.5 219.0v7M143.0 225.5h7M146.5 222.0v7M142.0 229.5h7M145.5 226.0v7M143.0 233.5h7M146.5 230.0v7M143.0 236.5h7M146.5 233.0v7M141.0 236.5h7M144.5 233.0v7M142.0 240.5h7M145.5 237.0v7M144.0 243.5h7M147.5 240.0v7M148.0 247.5h7M151.5 244.0v7M153.0 251.5h7M156.5 248.0v7M156.0 254.5h7M159.5 251.0v7M150.0 258.5h7M153.5 255.0v7M149.0 262.5h7M152.5 259.0v7M153.0 265.5h7M156.5 262.0v7M154.0 269.5h7M157.5 266.0v7M151.0 272.5h7M154.5 269.0v7M155.0 276.5h7M158.5 273.0v7M152.0 280.5h7M155.5 277.0v7M156.0 283.5h7M159.5 280.0v7M152.0 287.5h7M155.5 284.0v7M153.0 290.5h7M156.5 287.0v7M153.0 294.5h7M156.5 291.0v7M153.0 298.5h7M156.5 295.0v7M154.0 301.5h7M157.5 298.0v7M155.0 305.5h7M158.5 302.0v7M189.0 309.5h7M192.5 306.0v7M235.0 312.5h7M238.5 309.0v7M273.0 316.5h7M276.5 313.0v7M298.0 319.5h7M301.5 316.0v7M335.0 323.5h7M338.5 320.0v7M333.0 327.5h7M336.5 324.0v7M254.0 330.5h7M257.5 327.0v7M245.0 334.5h7M248.5 331.0v7M259.0 338.5h7M262.5 335.0v7M281.0 341.5h7M284.5 338.0v7M309.0 345.5h7M312.5 342.0v7M339.0 348.5h7M342.5 345.0v7M358.0 352.5h7M361.5 349.0v7M389.0 356.5h7M392.5 353.0v7M415.0 359.5h7M418.5 356.0v7M442.0 363.5h7M445.5 360.0v7M463.0 367.5h7M466.5 364.0v7M484.0 370.5h7M487.5 367.0v7M500.0 374.5h7M503.5 371.0v7M522.0 377.5h7M525.5 374.0v7M532.0 381.5h7M535.5 378.0v7M550.0 385.5h7M553.5 382.0v7M558.0 388.5h7M561.5 385.0v7M570.0 392.5h7M573.5 389.0v7M246.0 81.5h7M249.5 78.0v7M228.0 84.5h7M231.5 81.0v7M220.0 88.5h7M223.5 85.0v7M221.0 91.5h7M224.5 88.0v7M216.0 95.5h7M219.5 92.0v7M193.0 99.5h7M196.5 96.0v7M187.0 102.5h7M190.5 99.0v7M181.0 106.5h7M184.5 103.0v7M179.0 109.5h7M182.5 106.0v7M177.0 113.5h7M180.5 110.0v7M175.0 117.5h7M178.5 114.0v7M167.0 120.5h7M170.5 117.0v7M161.0 124.5h7M164.5 121.0v7M157.0 128.5h7M160.5 125.0v7M156.0 131.5h7M159.5 128.0v7M155.0 135.5h7M158.5 132.0v7M153.0 138.5h7M156.5 135.0v7M151.0 142.5h7M154.5 139.0v7M149.0 146.5h7M152.5 143.0v7M147.0 149.5h7M150.5 146.0v7M147.0 153.5h7M150.5 150.0v7M145.0 157.5h7M148.5 154.0v7M145.0 160.5h7M148.5 157.0v7M144.0 164.5h7M147.5 161.0v7M144.0 167.5h7M147.5 164.0v7M143.0 171.5h7M146.5 168.0v7M143.0 175.5h7M146.5 172.0v7M143.0 178.5h7M146.5 175.0v7M143.0 182.5h7M146.5 179.0v7M143.0 186.5h7M146.5 183.0v7M143.0 189.5h7M146.5 186.0v7M142.0 193.5h7M145.5 190.0v7M142.0 196.5h7M145.5 193.0v7M142.0 200.5h7M145.5 197.0v7M143.0 204.5h7M146.5 201.0v7M143.0 207.5h7M146.5 204.0v7M143.0 211.5h7M146.5 208.0v7M143.0 214.5h7M146.5 211.0v7M142.0 218.5h7M145.5 215.0v7M143.0 222.5h7M146.5 219.0v7M143.0 225.5h7M146.5 222.0v7M142.0 229.5h7M145.5 226.0v7M143.0 233.5h7M146.5 230.0v7M143.0 236.5h7M146.5 233.0v7M141.0 236.5h7M144.5 233.0v7M142.0 240.5h7M145.5 237.0v7M144.0 243.5h7M147.5 240.0v7M148.0 247.5h7M151.5 244.0v7M151.0 251.5h7M154.5 248.0v7M155.0 254.5h7M158.5 251.0v7M157.0 258.5h7M160.5 255.0v7M161.0 262.5h7M164.5 259.0v7M161.0 265.5h7M164.5 262.0v7M158.0 269.5h7M161.5 266.0v7M156.0 272.5h7M159.5 269.0v7M161.0 276.5h7M164.5 273.0v7M161.0 280.5h7M164.5 277.0v7M154.0 283.5h7M157.5 280.0v7M151.0 287.5h7M154.5 284.0v7M157.0 290.5h7M160.5 287.0v7M152.0 294.5h7M155.5 291.0v7M156.0 298.5h7M159.5 295.0v7M155.0 301.5h7M158.5 298.0v7M149.0 305.5h7M152.5 302.0v7M158.0 309.5h7M161.5 306.0v7M187.0 312.5h7M190.5 309.0v7M247.0 316.5h7M250.5 313.0v7M279.0 319.5h7M282.5 316.0v7M323.0 323.5h7M326.5 320.0v7M343.0 327.5h7M346.5 324.0v7M347.0 330.5h7M350.5 327.0v7M349.0 334.5h7M352.5 331.0v7M298.0 338.5h7M301.5 335.0v7M319.0 341.5h7M322.5 338.0v7M344.0 345.5h7M347.5 342.0v7M376.0 348.5h7M379.5 345.0v7M401.0 352.5h7M404.5 349.0v7M420.0 356.5h7M423.5 353.0v7M440.0 359.5h7M443.5 356.0v7M460.0 363.5h7M463.5 360.0v7M483.0 367.5h7M486.5 364.0v7M498.0 370.5h7M501.5 367.0v7M516.0 374.5h7M519.5 371.0v7M526.0 377.5h7M529.5 374.0v7M521.0 381.5h7M524.5 378.0v7M545.0 385.5h7M548.5 382.0v7M555.0 388.5h7M558.5 385.0v7M565.0 392.5h7M568.5 389.0v7M242.0 77.5h7M245.5 74.0v7M224.0 81.5h7M227.5 78.0v7M207.0 84.5h7M210.5 81.0v7M212.0 88.5h7M215.5 85.0v7M205.0 91.5h7M208.5 88.0v7M197.0 95.5h7M200.5 92.0v7M185.0 99.5h7M188.5 96.0v7M180.0 102.5h7M183.5 99.0v7M174.0 106.5h7M177.5 103.0v7M174.0 109.5h7M177.5 106.0v7M173.0 113.5h7M176.5 110.0v7M171.0 117.5h7M174.5 114.0v7M164.0 120.5h7M167.5 117.0v7M160.0 124.5h7M163.5 121.0v7M154.0 128.5h7M157.5 125.0v7M155.0 131.5h7M158.5 128.0v7M152.0 135.5h7M155.5 132.0v7M150.0 138.5h7M153.5 135.0v7M149.0 142.5h7M152.5 139.0v7M148.0 146.5h7M151.5 143.0v7M147.0 149.5h7M150.5 146.0v7M146.0 153.5h7M149.5 150.0v7M145.0 157.5h7M148.5 154.0v7M144.0 160.5h7M147.5 157.0v7M144.0 164.5h7M147.5 161.0v7M143.0 167.5h7M146.5 164.0v7M143.0 171.5h7M146.5 168.0v7M143.0 175.5h7M146.5 172.0v7M143.0 178.5h7M146.5 175.0v7M143.0 182.5h7M146.5 179.0v7M142.0 186.5h7M145.5 183.0v7M143.0 189.5h7M146.5 186.0v7M143.0 193.5h7M146.5 190.0v7M143.0 196.5h7M146.5 193.0v7M143.0 200.5h7M146.5 197.0v7M143.0 204.5h7M146.5 201.0v7M143.0 207.5h7M146.5 204.0v7M143.0 211.5h7M146.5 208.0v7M143.0 214.5h7M146.5 211.0v7M142.0 218.5h7M145.5 215.0v7M143.0 222.5h7M146.5 219.0v7M142.0 225.5h7M145.5 222.0v7M142.0 229.5h7M145.5 226.0v7M143.0 233.5h7M146.5 230.0v7M143.0 236.5h7M146.5 233.0v7M141.0 236.5h7M144.5 233.0v7M142.0 240.5h7M145.5 237.0v7M144.0 243.5h7M147.5 240.0v7M146.0 247.5h7M149.5 244.0v7M147.0 251.5h7M150.5 248.0v7M141.0 254.5h7M144.5 251.0v7M143.0 258.5h7M146.5 255.0v7M145.0 262.5h7M148.5 259.0v7M151.0 265.5h7M154.5 262.0v7M154.0 269.5h7M157.5 266.0v7M152.0 272.5h7M155.5 269.0v7M141.0 276.5h7M144.5 273.0v7M141.0 280.5h7M144.5 277.0v7M141.0 283.5h7M144.5 280.0v7M141.0 287.5h7M144.5 284.0v7M141.0 290.5h7M144.5 287.0v7M141.0 294.5h7M144.5 291.0v7M141.0 298.5h7M144.5 295.0v7M141.0 301.5h7M144.5 298.0v7M141.0 305.5h7M144.5 302.0v7M164.0 309.5h7M167.5 306.0v7M177.0 312.5h7M180.5 309.0v7M229.0 316.5h7M232.5 313.0v7M265.0 319.5h7M268.5 316.0v7M317.0 323.5h7M320.5 320.0v7M342.0 327.5h7M345.5 324.0v7M345.0 330.5h7M348.5 327.0v7M347.0 334.5h7M350.5 331.0v7M273.0 338.5h7M276.5 335.0v7M297.0 341.5h7M300.5 338.0v7M323.0 345.5h7M326.5 342.0v7M358.0 348.5h7M361.5 345.0v7M387.0 352.5h7M390.5 349.0v7M406.0 356.5h7M409.5 353.0v7M433.0 359.5h7M436.5 356.0v7M451.0 363.5h7M454.5 360.0v7M473.0 367.5h7M476.5 364.0v7M491.0 370.5h7M494.5 367.0v7M507.0 374.5h7M510.5 371.0v7M523.0 377.5h7M526.5 374.0v7M531.0 381.5h7M534.5 378.0v7M547.0 385.5h7M550.5 382.0v7M557.0 388.5h7M560.5 385.0v7M567.0 392.5h7M570.5 389.0v7M557.0 395.5h7M560.5 392.0v7M541.0 399.5h7M544.5 396.0v7M197.0 84.5h7M200.5 81.0v7M201.0 88.5h7M204.5 85.0v7M191.0 91.5h7M194.5 88.0v7M191.0 95.5h7M194.5 92.0v7M149.0 99.5h7M152.5 96.0v7M148.0 102.5h7M151.5 99.0v7M148.0 106.5h7M151.5 103.0v7M147.0 109.5h7M150.5 106.0v7M147.0 113.5h7M150.5 110.0v7M149.0 117.5h7M152.5 114.0v7M146.0 120.5h7M149.5 117.0v7M144.0 124.5h7M147.5 121.0v7M146.0 128.5h7M149.5 125.0v7M146.0 131.5h7M149.5 128.0v7M142.0 135.5h7M145.5 132.0v7M143.0 138.5h7M146.5 135.0v7M141.0 142.5h7M144.5 139.0v7M142.0 146.5h7M145.5 143.0v7M142.0 149.5h7M145.5 146.0v7M142.0 153.5h7M145.5 150.0v7M142.0 157.5h7M145.5 154.0v7M142.0 160.5h7M145.5 157.0v7M142.0 164.5h7M145.5 161.0v7M142.0 167.5h7M145.5 164.0v7M143.0 171.5h7M146.5 168.0v7M143.0 175.5h7M146.5 172.0v7M143.0 178.5h7M146.5 175.0v7M143.0 182.5h7M146.5 179.0v7M143.0 186.5h7M146.5 183.0v7M143.0 189.5h7M146.5 186.0v7M143.0 193.5h7M146.5 190.0v7M143.0 196.5h7M146.5 193.0v7M143.0 200.5h7M146.5 197.0v7M143.0 204.5h7M146.5 201.0v7M143.0 207.5h7M146.5 204.0v7M143.0 211.5h7M146.5 208.0v7M143.0 214.5h7M146.5 211.0v7M143.0 218.5h7M146.5 215.0v7M143.0 222.5h7M146.5 219.0v7M143.0 225.5h7M146.5 222.0v7M143.0 229.5h7M146.5 226.0v7M143.0 233.5h7M146.5 230.0v7M143.0 236.5h7M146.5 233.0v7M141.0 236.5h7M144.5 233.0v7M143.0 240.5h7M146.5 237.0v7M145.0 243.5h7M148.5 240.0v7M149.0 247.5h7M152.5 244.0v7M151.0 251.5h7M154.5 248.0v7M158.0 254.5h7M161.5 251.0v7M159.0 258.5h7M162.5 255.0v7M163.0 262.5h7M166.5 259.0v7M161.0 265.5h7M164.5 262.0v7M156.0 269.5h7M159.5 266.0v7M153.0 272.5h7M156.5 269.0v7M160.0 276.5h7M163.5 273.0v7M167.0 280.5h7M170.5 277.0v7M166.0 283.5h7M169.5 280.0v7M168.0 287.5h7M171.5 284.0v7M167.0 290.5h7M170.5 287.0v7M169.0 294.5h7M172.5 291.0v7M167.0 298.5h7M170.5 295.0v7M165.0 301.5h7M168.5 298.0v7M167.0 305.5h7M170.5 302.0v7M169.0 309.5h7M172.5 306.0v7M167.0 312.5h7M170.5 309.0v7M165.0 316.5h7M168.5 313.0v7M161.0 319.5h7M164.5 316.0v7M159.0 323.5h7M162.5 320.0v7M163.0 327.5h7M166.5 324.0v7M173.0 330.5h7M176.5 327.0v7M193.0 334.5h7M196.5 331.0v7M252.0 338.5h7M255.5 335.0v7M284.0 341.5h7M287.5 338.0v7M314.0 345.5h7M317.5 342.0v7M345.0 348.5h7M348.5 345.0v7M371.0 352.5h7M374.5 349.0v7M396.0 356.5h7M399.5 353.0v7M423.0 359.5h7M426.5 356.0v7M447.0 363.5h7M450.5 360.0v7M465.0 367.5h7M468.5 364.0v7M488.0 370.5h7M491.5 367.0v7M504.0 374.5h7M507.5 371.0v7M523.0 377.5h7M526.5 374.0v7M525.0 381.5h7M528.5 378.0v7M541.0 385.5h7M544.5 382.0v7M553.0 388.5h7M556.5 385.0v7M567.0 392.5h7M570.5 389.0v7M193.0 81.5h7M196.5 78.0v7M203.0 84.5h7M206.5 81.0v7M195.0 88.5h7M198.5 85.0v7M199.0 91.5h7M202.5 88.0v7M187.0 95.5h7M190.5 92.0v7M163.0 99.5h7M166.5 96.0v7M161.0 102.5h7M164.5 99.0v7M161.0 106.5h7M164.5 103.0v7M161.0 109.5h7M164.5 106.0v7M156.0 113.5h7M159.5 110.0v7M155.0 117.5h7M158.5 114.0v7M154.0 120.5h7M157.5 117.0v7M150.0 124.5h7M153.5 121.0v7M150.0 128.5h7M153.5 125.0v7M150.0 131.5h7M153.5 128.0v7M147.0 135.5h7M150.5 132.0v7M146.0 138.5h7M149.5 135.0v7M146.0 142.5h7M149.5 139.0v7M145.0 146.5h7M148.5 143.0v7M144.0 149.5h7M147.5 146.0v7M144.0 153.5h7M147.5 150.0v7M143.0 157.5h7M146.5 154.0v7M143.0 160.5h7M146.5 157.0v7M142.0 164.5h7M145.5 161.0v7M142.0 167.5h7M145.5 164.0v7M143.0 171.5h7M146.5 168.0v7M143.0 175.5h7M146.5 172.0v7M143.0 178.5h7M146.5 175.0v7M143.0 182.5h7M146.5 179.0v7M143.0 186.5h7M146.5 183.0v7M143.0 189.5h7M146.5 186.0v7M143.0 193.5h7M146.5 190.0v7M143.0 196.5h7M146.5 193.0v7M143.0 200.5h7M146.5 197.0v7M143.0 204.5h7M146.5 201.0v7M143.0 207.5h7M146.5 204.0v7M143.0 211.5h7M146.5 208.0v7M143.0 214.5h7M146.5 211.0v7M143.0 218.5h7M146.5 215.0v7M143.0 222.5h7M146.5 219.0v7M143.0 225.5h7M146.5 222.0v7M143.0 229.5h7M146.5 226.0v7M143.0 233.5h7M146.5 230.0v7M143.0 236.5h7M146.5 233.0v7M141.0 236.5h7M144.5 233.0v7M143.0 240.5h7M146.5 237.0v7M147.0 243.5h7M150.5 240.0v7M150.0 247.5h7M153.5 244.0v7M155.0 251.5h7M158.5 248.0v7M159.0 254.5h7M162.5 251.0v7M160.0 258.5h7M163.5 255.0v7M160.0 262.5h7M163.5 259.0v7M163.0 265.5h7M166.5 262.0v7M161.0 269.5h7M164.5 266.0v7M162.0 272.5h7M165.5 269.0v7M166.0 276.5h7M169.5 273.0v7M162.0 280.5h7M165.5 277.0v7M169.0 283.5h7M172.5 280.0v7M165.0 287.5h7M168.5 284.0v7M164.0 290.5h7M167.5 287.0v7M166.0 294.5h7M169.5 291.0v7M176.0 298.5h7M179.5 295.0v7M177.0 301.5h7M180.5 298.0v7M170.0 305.5h7M173.5 302.0v7M195.0 309.5h7M198.5 306.0v7M259.0 312.5h7M262.5 309.0v7M301.0 316.5h7M304.5 313.0v7M337.0 319.5h7M340.5 316.0v7M345.0 323.5h7M348.5 320.0v7M347.0 327.5h7M350.5 324.0v7M349.0 330.5h7M352.5 327.0v7M349.0 334.5h7M352.5 331.0v7M351.0 338.5h7M354.5 335.0v7M357.0 341.5h7M360.5 338.0v7M353.0 345.5h7M356.5 342.0v7M380.0 348.5h7M383.5 345.0v7M412.0 352.5h7M415.5 349.0v7M426.0 356.5h7M429.5 353.0v7M447.0 359.5h7M450.5 356.0v7M464.0 363.5h7M467.5 360.0v7M483.0 367.5h7M486.5 364.0v7M502.0 370.5h7M505.5 367.0v7M513.0 374.5h7M516.5 371.0v7M526.0 377.5h7M529.5 374.0v7M541.0 381.5h7M544.5 378.0v7M557.0 385.5h7M560.5 382.0v7M567.0 388.5h7M570.5 385.0v7M573.0 392.5h7M576.5 389.0v7"/>
<path stroke="#ff0000" d="M174.7 77.4L158.5 81.0L149.5 84.6L135.3 88.3L155.0 91.9L160.0 95.5L148.0 99.1L145.0 102.8L147.0 106.4L156.0 110.0L142.4 113.6L146.0 117.2L145.0 120.8L137.5 124.5L145.0 128.1L143.0 131.7L147.0 135.3L143.0 138.9L140.0 142.6L140.5 146.2L141.5 149.8L142.4 153.4L142.4 157.1L142.4 160.7L142.4 164.3L142.4 167.9L143.3 171.5L143.3 175.2L143.3 178.8L143.3 182.4L143.3 186.0L143.3 189.6L143.3 193.2L143.3 196.9L143.3 200.5L143.3 204.1L143.3 207.7L143.5 211.3L144.0 215.0L144.0 218.6L144.5 222.2L144.5 225.8L145.0 229.4L146.0 233.1L146.5 236.7L147.9 240.3L149.8 243.9L156.5 247.5L164.1 251.2L174.8 254.8L191.0 258.4L207.9 262.0L219.5 265.6L228.0 269.3L232.1 272.9L241.5 276.5L252.5 280.1L269.5 283.8L279.5 287.4L295.5 291.0L301.5 294.6L313.3 298.2L324.5 301.9L349.5 305.5L363.5 309.1L383.5 312.7L405.5 316.3L434.0 319.9L433.6 323.6L472.2 327.2L473.0 330.8L489.5 334.4L492.0 338.1L499.0 341.7L499.0 345.3L488.5 348.9L449.5 352.5M181.0 77.4L166.0 81.0L160.0 84.6L153.0 88.3L128.5 91.9L139.0 95.5L133.6 99.1L138.0 102.8L136.8 106.4L151.0 110.0L144.0 113.6L144.0 117.2L140.0 120.8L143.0 124.5L147.0 128.1L145.0 131.7L145.0 135.3L139.5 138.9L143.0 142.6L145.0 146.2L142.0 149.8L143.0 153.4L143.0 157.1L143.0 160.7L143.0 164.3L143.0 167.9L143.6 171.5L143.6 175.2L143.6 178.8L143.6 182.4L143.6 186.0L143.6 189.6L143.6 193.2L143.6 196.9L143.6 200.5L143.6 204.1L143.6 207.7L144.0 211.3L144.6 215.0L144.8 218.6L145.4 222.2L145.6 225.8L146.1 229.4L147.0 233.1L147.7 236.7L149.6 240.3L153.1 243.9L160.8 247.5L169.3 251.2L180.5 254.8L196.1 258.4L212.0 262.0L223.4 265.6L232.9 269.3L236.5 272.9L245.7 276.5L256.9 280.1L273.9 283.8L284.6 287.4L300.4 291.0L308.3 294.6L320.3 298.2L332.3 301.9L361.1 305.5L377.6 309.1L394.0 312.7L413.7 316.3L441.0 319.9L442.1 323.6L475.7 327.2L481.0 330.8L497.2 334.4L500.2 338.1L505.8 341.7L507.3 345.3L515.5 348.9L526.5 352.5L530.5 356.1L533.5 359.8L535.0 363.4L535.5 367.0L535.5 370.6L536.0 374.2L547.0 377.9L485.5 381.5L444.5 385.1L474.5 388.7L536.0 388.2M184.5 77.4L162.0 81.0L154.0 84.6L144.0 88.3L145.0 91.9L153.0 95.5L138.0 99.1L158.0 102.8L158.0 106.4L142.0 110.0L147.0 113.6L142.0 117.2L143.0 120.8L140.0 124.5L141.0 128.1L147.0 131.7L139.5 135.3L141.0 138.9L145.0 142.6L143.0 146.2L145.0 149.8L143.6 153.4L143.6 157.1L143.6 160.7L143.6 164.3L143.6 167.9L143.9 171.5L143.9 175.2L143.9 178.8L143.9 182.4L143.9 186.0L143.9 189.6L143.9 193.2L143.9 196.9L143.9 200.5L143.9 204.1L143.9 207.7L144.5 211.3L145.2 215.0L145.6 218.6L146.3 222.2L146.7 225.8L147.2 229.4L148.0 233.1L148.9 236.7L151.3 240.3L156.4 243.9L165.0 247.5L174.6 251.2L186.2 254.8L201.1 258.4L216.0 262.0L227.4 265.6L237.8 269.3L240.9 272.9L249.9 276.5L261.2 280.1L278.3 283.8L289.6 287.4L305.4 291.0L315.1 294.6L327.4 298.2L340.1 301.9L372.7 305.5L391.7 309.1L404.5 312.7L421.9 316.3L448.1 319.9L450.6 323.6L479.1 327.2L489.1 330.8L504.9 334.4L508.4 338.1L512.6 341.7L515.6 345.3L522.0 348.9L530.0 352.5L535.6 356.1L537.6 359.8L539.5 363.4L544.5 367.0L544.4 370.6L545.8 374.2L556.6 377.9L551.3 381.5L545.3 385.1L545.4 392.4L512.3 396.0L483.4 399.6M160.6 77.4L140.4 81.0L172.0 84.6L164.0 88.3L163.5 91.9L146.0 95.5L159.8 99.1L151.0 102.8L152.0 106.4L146.0 110.0L150.0 113.6L148.0 117.2L147.0 120.8L145.0 124.5L138.0 128.1L138.5 131.7L143.0 135.3L146.0 138.9L144.0 142.6L144.0 146.2L143.0 149.8L144.1 153.4L144.1 157.1L144.1 160.7L144.1 164.3L144.1 167.9L144.1 171.5L144.1 175.2L144.1 178.8L144.1 182.4L144.1 186.0L144.1 189.6L144.1 193.2L144.1 196.9L144.1 200.5L144.1 204.1L144.1 207.7L145.0 211.3L145.8 215.0L146.4 218.6L147.2 222.2L147.8 225.8L148.3 229.4L149.0 233.1L150.1 236.7L153.1 240.3L159.8 243.9L169.2 247.5L179.8 251.2L191.9 254.8L206.2 258.4L220.1 262.0L231.3 265.6L242.7 269.3L245.2 272.9L254.1 276.5L265.6 280.1L282.7 283.8L294.7 287.4L310.4 291.0L321.9 294.6L334.4 298.2L347.9 301.9L384.3 305.5L405.8 309.1L415.0 312.7L430.1 316.3L455.1 319.9L459.2 323.6L482.6 327.2L497.1 330.8L512.6 334.4L516.6 338.1L519.4 341.7L523.9 345.3L530.0 348.9L534.0 352.5L540.2 356.1L550.3 359.8L552.1 363.4L550.6 367.0L557.6 370.6L561.0 374.2L560.6 377.9L550.4 381.5L550.2 385.1L540.0 388.7L560.7 392.4L540.4 396.0L461.6 399.6M178.0 77.4L171.0 81.0L166.0 84.6L170.0 88.3L136.0 91.9L133.6 95.5L144.0 99.1L131.6 102.8L141.0 106.4L137.5 110.0L154.0 113.6L139.8 117.2L137.5 120.8L147.0 124.5L143.0 128.1L141.0 131.7L141.0 135.3L144.0 138.9L141.5 142.6L142.0 146.2L144.0 149.8L144.3 153.4L144.3 157.1L144.3 160.7L144.3 164.3L144.3 167.9L144.3 171.5L144.3 175.2L144.3 178.8L144.3 182.4L144.3 186.0L144.3 189.6L144.3 193.2L144.3 196.9L144.3 200.5L144.3 204.1L144.3 207.7L145.5 211.3L146.4 215.0L147.2 218.6L148.1 222.2L148.9 225.8L149.4 229.4L150.0 233.1L151.3 236.7L154.8 240.3L163.2 243.9L173.5 247.5L185.0 251.2L197.7 254.8L211.2 258.4L224.1 262.0L235.3 265.6L247.6 269.3L249.6 272.9L258.3 276.5L269.9 280.1L287.1 283.8L299.7 287.4L315.3 291.0L328.7 294.6L341.5 298.2L355.7 301.9L395.9 305.5L419.9 309.1L425.5 312.7L438.3 316.3L462.2 319.9L467.7 323.6L486.1 327.2L505.2 330.8L520.3 334.4L524.8 338.1L526.2 341.7L532.2 345.3L536.0 348.9L538.0 352.5L551.2 356.1L558.9 359.8L557.3 363.4L559.7 367.0L561.0 370.6L573.5 374.2L566.2 377.9L562.9 381.5L556.9 385.1L558.5 388.7L569.6 392.4M184.5 77.4L174.5 81.0L176.0 84.6L176.0 88.3L184.4 91.9L184.4 95.5L152.8 99.1L163.5 102.8L163.5 106.4L160.0 110.0L157.2 113.6L149.7 117.2L149.7 120.8L149.5 124.5L149.5 128.1L149.5 131.7L148.5 135.3L147.5 138.9L146.5 142.6L145.5 146.2L145.5 149.8L144.6 153.4L144.6 157.1L144.6 160.7L144.6 164.3L144.6 167.9L144.5 171.5L144.5 175.2L144.5 178.8L144.5 182.4L144.5 186.0L144.5 189.6L144.5 193.2L144.5 196.9L144.5 200.5L144.5 204.1L144.5 207.7L146.0 211.3L147.0 215.0L148.0 218.6L149.0 222.2L150.0 225.8L150.5 229.4L151.0 233.1L152.5 236.7L156.5 240.3L166.5 243.9L177.8 247.5L190.2 251.2L203.4 254.8L216.3 258.4L228.2 262.0L239.2 265.6L252.5 269.3L254.0 272.9L262.5 276.5L274.3 280.1L291.5 283.8L304.8 287.4L320.2 291.0L335.5 294.6L348.5 298.2L363.5 301.9L407.5 305.5L434.0 309.1L436.0 312.7L446.5 316.3L469.2 319.9L476.2 323.6L489.5 327.2L513.2 330.8L528.0 334.4L533.0 338.1L533.0 341.7L540.5 345.3L540.5 348.9L540.5 352.5L556.2 356.1L568.0 359.8L568.5 363.4L572.5 367.0L573.5 370.6L595.5 374.2L596.5 377.9L566.5 381.5L566.5 385.1L566.0 388.7L573.5 392.4M541.5 388.7L489.4 392.4L548.0 391.6M536.0 388.2"/>
<path fill="#ff0000" stroke="none" d="M171 74h7v7h-7zM155 78h7v7h-7zM146 81h7v7h-7zM132 85h7v7h-7zM151 88h7v7h-7zM157 92h7v7h-7zM145 96h7v7h-7zM141 99h7v7h-7zM143 103h7v7h-7zM153 106h7v7h-7zM139 110h7v7h-7zM143 114h7v7h-7zM141 117h7v7h-7zM134 121h7v7h-7zM141 125h7v7h-7zM139 128h7v7h-7zM143 132h7v7h-7zM139 135h7v7h-7zM137 139h7v7h-7zM137 143h7v7h-7zM138 146h7v7h-7zM139 150h7v7h-7zM139 154h7v7h-7zM139 157h7v7h-7zM139 161h7v7h-7zM139 164h7v7h-7zM140 168h7v7h-7zM140 172h7v7h-7zM140 175h7v7h-7zM140 179h7v7h-7zM140 183h7v7h-7zM140 186h7v7h-7zM140 190h7v7h-7zM140 193h7v7h-7zM140 197h7v7h-7zM140 201h7v7h-7zM140 204h7v7h-7zM140 208h7v7h-7zM141 211h7v7h-7zM141 215h7v7h-7zM141 219h7v7h-7zM141 222h7v7h-7zM141 226h7v7h-7zM143 230h7v7h-7zM143 233h7v7h-7zM144 237h7v7h-7zM146 240h7v7h-7zM153 244h7v7h-7zM161 248h7v7h-7zM171 251h7v7h-7zM187 255h7v7h-7zM204 259h7v7h-7zM216 262h7v7h-7zM225 266h7v7h-7zM229 269h7v7h-7zM238 273h7v7h-7zM249 277h7v7h-7zM266 280h7v7h-7zM276 284h7v7h-7zM292 287h7v7h-7zM298 291h7v7h-7zM310 295h7v7h-7zM321 298h7v7h-7zM346 302h7v7h-7zM360 306h7v7h-7zM380 309h7v7h-7zM402 313h7v7h-7zM431 316h7v7h-7zM430 320h7v7h-7zM469 324h7v7h-7zM469 327h7v7h-7zM486 331h7v7h-7zM489 335h7v7h-7zM495 338h7v7h-7zM495 342h7v7h-7zM485 345h7v7h-7zM446 349h7v7h-7zM177 74h7v7h-7zM163 78h7v7h-7zM157 81h7v7h-7zM149 85h7v7h-7zM125 88h7v7h-7zM135 92h7v7h-7zM130 96h7v7h-7zM135 99h7v7h-7zM133 103h7v7h-7zM147 106h7v7h-7zM141 110h7v7h-7zM141 114h7v7h-7zM137 117h7v7h-7zM139 121h7v7h-7zM143 125h7v7h-7zM141 128h7v7h-7zM141 132h7v7h-7zM136 135h7v7h-7zM139 139h7v7h-7zM141 143h7v7h-7zM139 146h7v7h-7zM139 150h7v7h-7zM139 154h7v7h-7zM139 157h7v7h-7zM139 161h7v7h-7zM139 164h7v7h-7zM140 168h7v7h-7zM140 172h7v7h-7zM140 175h7v7h-7zM140 179h7v7h-7zM140 183h7v7h-7zM140 186h7v7h-7zM140 190h7v7h-7zM140 193h7v7h-7zM140 197h7v7h-7zM140 201h7v7h-7zM140 204h7v7h-7zM141 208h7v7h-7zM141 211h7v7h-7zM141 215h7v7h-7zM142 219h7v7h-7zM142 222h7v7h-7zM143 226h7v7h-7zM143 230h7v7h-7zM144 233h7v7h-7zM146 237h7v7h-7zM150 240h7v7h-7zM157 244h7v7h-7zM166 248h7v7h-7zM177 251h7v7h-7zM193 255h7v7h-7zM208 259h7v7h-7zM220 262h7v7h-7zM229 266h7v7h-7zM233 269h7v7h-7zM242 273h7v7h-7zM253 277h7v7h-7zM270 280h7v7h-7zM281 284h7v7h-7zM297 287h7v7h-7zM305 291h7v7h-7zM317 295h7v7h-7zM329 298h7v7h-7zM358 302h7v7h-7zM374 306h7v7h-7zM391 309h7v7h-7zM410 313h7v7h-7zM438 316h7v7h-7zM439 320h7v7h-7zM472 324h7v7h-7zM478 327h7v7h-7zM494 331h7v7h-7zM497 335h7v7h-7zM502 338h7v7h-7zM504 342h7v7h-7zM512 345h7v7h-7zM523 349h7v7h-7zM527 353h7v7h-7zM530 356h7v7h-7zM531 360h7v7h-7zM532 364h7v7h-7zM532 367h7v7h-7zM533 371h7v7h-7zM543 374h7v7h-7zM482 378h7v7h-7zM441 382h7v7h-7zM471 385h7v7h-7zM533 385h7v7h-7zM181 74h7v7h-7zM159 78h7v7h-7zM151 81h7v7h-7zM141 85h7v7h-7zM141 88h7v7h-7zM149 92h7v7h-7zM135 96h7v7h-7zM155 99h7v7h-7zM155 103h7v7h-7zM139 106h7v7h-7zM143 110h7v7h-7zM139 114h7v7h-7zM139 117h7v7h-7zM137 121h7v7h-7zM137 125h7v7h-7zM143 128h7v7h-7zM136 132h7v7h-7zM137 135h7v7h-7zM141 139h7v7h-7zM139 143h7v7h-7zM141 146h7v7h-7zM140 150h7v7h-7zM140 154h7v7h-7zM140 157h7v7h-7zM140 161h7v7h-7zM140 164h7v7h-7zM140 168h7v7h-7zM140 172h7v7h-7zM140 175h7v7h-7zM140 179h7v7h-7zM140 183h7v7h-7zM140 186h7v7h-7zM140 190h7v7h-7zM140 193h7v7h-7zM140 197h7v7h-7zM140 201h7v7h-7zM140 204h7v7h-7zM141 208h7v7h-7zM142 211h7v7h-7zM142 215h7v7h-7zM143 219h7v7h-7zM143 222h7v7h-7zM144 226h7v7h-7zM145 230h7v7h-7zM145 233h7v7h-7zM148 237h7v7h-7zM153 240h7v7h-7zM161 244h7v7h-7zM171 248h7v7h-7zM183 251h7v7h-7zM198 255h7v7h-7zM213 259h7v7h-7zM224 262h7v7h-7zM234 266h7v7h-7zM237 269h7v7h-7zM246 273h7v7h-7zM258 277h7v7h-7zM275 280h7v7h-7zM286 284h7v7h-7zM302 287h7v7h-7zM312 291h7v7h-7zM324 295h7v7h-7zM337 298h7v7h-7zM369 302h7v7h-7zM388 306h7v7h-7zM401 309h7v7h-7zM418 313h7v7h-7zM445 316h7v7h-7zM447 320h7v7h-7zM476 324h7v7h-7zM486 327h7v7h-7zM501 331h7v7h-7zM505 335h7v7h-7zM509 338h7v7h-7zM512 342h7v7h-7zM519 345h7v7h-7zM527 349h7v7h-7zM532 353h7v7h-7zM534 356h7v7h-7zM536 360h7v7h-7zM541 364h7v7h-7zM541 367h7v7h-7zM542 371h7v7h-7zM553 374h7v7h-7zM548 378h7v7h-7zM542 382h7v7h-7zM542 389h7v7h-7zM509 392h7v7h-7zM480 396h7v7h-7zM157 74h7v7h-7zM137 78h7v7h-7zM169 81h7v7h-7zM161 85h7v7h-7zM160 88h7v7h-7zM143 92h7v7h-7zM156 96h7v7h-7zM147 99h7v7h-7zM149 103h7v7h-7zM143 106h7v7h-7zM147 110h7v7h-7zM145 114h7v7h-7zM143 117h7v7h-7zM141 121h7v7h-7zM135 125h7v7h-7zM135 128h7v7h-7zM139 132h7v7h-7zM143 135h7v7h-7zM141 139h7v7h-7zM141 143h7v7h-7zM139 146h7v7h-7zM141 150h7v7h-7zM141 154h7v7h-7zM141 157h7v7h-7zM141 161h7v7h-7zM141 164h7v7h-7zM141 168h7v7h-7zM141 172h7v7h-7zM141 175h7v7h-7zM141 179h7v7h-7zM141 183h7v7h-7zM141 186h7v7h-7zM141 190h7v7h-7zM141 193h7v7h-7zM141 197h7v7h-7zM141 201h7v7h-7zM141 204h7v7h-7zM141 208h7v7h-7zM142 211h7v7h-7zM143 215h7v7h-7zM144 219h7v7h-7zM144 222h7v7h-7zM145 226h7v7h-7zM145 230h7v7h-7zM147 233h7v7h-7zM150 237h7v7h-7zM156 240h7v7h-7zM166 244h7v7h-7zM176 248h7v7h-7zM188 251h7v7h-7zM203 255h7v7h-7zM217 259h7v7h-7zM228 262h7v7h-7zM239 266h7v7h-7zM242 269h7v7h-7zM251 273h7v7h-7zM262 277h7v7h-7zM279 280h7v7h-7zM291 284h7v7h-7zM307 287h7v7h-7zM318 291h7v7h-7zM331 295h7v7h-7zM344 298h7v7h-7zM381 302h7v7h-7zM402 306h7v7h-7zM411 309h7v7h-7zM427 313h7v7h-7zM452 316h7v7h-7zM456 320h7v7h-7zM479 324h7v7h-7zM494 327h7v7h-7zM509 331h7v7h-7zM513 335h7v7h-7zM516 338h7v7h-7zM520 342h7v7h-7zM527 345h7v7h-7zM531 349h7v7h-7zM537 353h7v7h-7zM547 356h7v7h-7zM549 360h7v7h-7zM547 364h7v7h-7zM554 367h7v7h-7zM558 371h7v7h-7zM557 374h7v7h-7zM547 378h7v7h-7zM547 382h7v7h-7zM536 385h7v7h-7zM557 389h7v7h-7zM537 392h7v7h-7zM458 396h7v7h-7zM175 74h7v7h-7zM167 78h7v7h-7zM163 81h7v7h-7zM167 85h7v7h-7zM133 88h7v7h-7zM130 92h7v7h-7zM141 96h7v7h-7zM128 99h7v7h-7zM137 103h7v7h-7zM134 106h7v7h-7zM151 110h7v7h-7zM136 114h7v7h-7zM134 117h7v7h-7zM143 121h7v7h-7zM139 125h7v7h-7zM137 128h7v7h-7zM137 132h7v7h-7zM141 135h7v7h-7zM138 139h7v7h-7zM139 143h7v7h-7zM141 146h7v7h-7zM141 150h7v7h-7zM141 154h7v7h-7zM141 157h7v7h-7zM141 161h7v7h-7zM141 164h7v7h-7zM141 168h7v7h-7zM141 172h7v7h-7zM141 175h7v7h-7zM141 179h7v7h-7zM141 183h7v7h-7zM141 186h7v7h-7zM141 190h7v7h-7zM141 193h7v7h-7zM141 197h7v7h-7zM141 201h7v7h-7zM141 204h7v7h-7zM142 208h7v7h-7zM143 211h7v7h-7zM144 215h7v7h-7zM145 219h7v7h-7zM145 222h7v7h-7zM146 226h7v7h-7zM147 230h7v7h-7zM148 233h7v7h-7zM151 237h7v7h-7zM160 240h7v7h-7zM170 244h7v7h-7zM182 248h7v7h-7zM194 251h7v7h-7zM208 255h7v7h-7zM221 259h7v7h-7zM232 262h7v7h-7zM244 266h7v7h-7zM246 269h7v7h-7zM255 273h7v7h-7zM266 277h7v7h-7zM284 280h7v7h-7zM296 284h7v7h-7zM312 287h7v7h-7zM325 291h7v7h-7zM338 295h7v7h-7zM352 298h7v7h-7zM392 302h7v7h-7zM416 306h7v7h-7zM422 309h7v7h-7zM435 313h7v7h-7zM459 316h7v7h-7zM464 320h7v7h-7zM483 324h7v7h-7zM502 327h7v7h-7zM517 331h7v7h-7zM521 335h7v7h-7zM523 338h7v7h-7zM529 342h7v7h-7zM533 345h7v7h-7zM535 349h7v7h-7zM548 353h7v7h-7zM555 356h7v7h-7zM554 360h7v7h-7zM556 364h7v7h-7zM557 367h7v7h-7zM570 371h7v7h-7zM563 374h7v7h-7zM559 378h7v7h-7zM553 382h7v7h-7zM555 385h7v7h-7zM566 389h7v7h-7zM181 74h7v7h-7zM171 78h7v7h-7zM173 81h7v7h-7zM173 85h7v7h-7zM181 88h7v7h-7zM181 92h7v7h-7zM149 96h7v7h-7zM160 99h7v7h-7zM160 103h7v7h-7zM157 106h7v7h-7zM154 110h7v7h-7zM146 114h7v7h-7zM146 117h7v7h-7zM146 121h7v7h-7zM146 125h7v7h-7zM146 128h7v7h-7zM145 132h7v7h-7zM144 135h7v7h-7zM143 139h7v7h-7zM142 143h7v7h-7zM142 146h7v7h-7zM141 150h7v7h-7zM141 154h7v7h-7zM141 157h7v7h-7zM141 161h7v7h-7zM141 164h7v7h-7zM141 168h7v7h-7zM141 172h7v7h-7zM141 175h7v7h-7zM141 179h7v7h-7zM141 183h7v7h-7zM141 186h7v7h-7zM141 190h7v7h-7zM141 193h7v7h-7zM141 197h7v7h-7zM141 201h7v7h-7zM141 204h7v7h-7zM143 208h7v7h-7zM143 211h7v7h-7zM145 215h7v7h-7zM145 219h7v7h-7zM147 222h7v7h-7zM147 226h7v7h-7zM147 230h7v7h-7zM149 233h7v7h-7zM153 237h7v7h-7zM163 240h7v7h-7zM174 244h7v7h-7zM187 248h7v7h-7zM200 251h7v7h-7zM213 255h7v7h-7zM225 259h7v7h-7zM236 262h7v7h-7zM249 266h7v7h-7zM251 269h7v7h-7zM259 273h7v7h-7zM271 277h7v7h-7zM288 280h7v7h-7zM301 284h7v7h-7zM317 287h7v7h-7zM332 291h7v7h-7zM345 295h7v7h-7zM360 298h7v7h-7zM404 302h7v7h-7zM431 306h7v7h-7zM433 309h7v7h-7zM443 313h7v7h-7zM466 316h7v7h-7zM473 320h7v7h-7zM486 324h7v7h-7zM510 327h7v7h-7zM525 331h7v7h-7zM529 335h7v7h-7zM529 338h7v7h-7zM537 342h7v7h-7zM537 345h7v7h-7zM537 349h7v7h-7zM553 353h7v7h-7zM565 356h7v7h-7zM565 360h7v7h-7zM569 364h7v7h-7zM570 367h7v7h-7zM592 371h7v7h-7zM593 374h7v7h-7zM563 378h7v7h-7zM563 382h7v7h-7zM563 385h7v7h-7zM570 389h7v7h-7zM538 385h7v7h-7zM486 389h7v7h-7zM545 388h7v7h-7zM533 385h7v7h-7zM153 81h7v7h-7zM159 81h7v7h-7zM165 81h7v7h-7zM135 85h7v7h-7zM138 85h7v7h-7zM143 85h7v7h-7zM147 85h7v7h-7zM153 85h7v7h-7zM157 85h7v7h-7zM163 85h7v7h-7zM169 85h7v7h-7zM129 88h7v7h-7zM135 88h7v7h-7zM139 88h7v7h-7zM145 88h7v7h-7zM148 88h7v7h-7zM154 88h7v7h-7zM157 88h7v7h-7zM133 92h7v7h-7zM139 92h7v7h-7zM146 92h7v7h-7zM153 92h7v7h-7zM137 96h7v7h-7zM153 96h7v7h-7zM131 99h7v7h-7zM138 99h7v7h-7zM145 99h7v7h-7zM151 99h7v7h-7zM157 99h7v7h-7zM141 103h7v7h-7zM151 103h7v7h-7zM157 103h7v7h-7zM301 291h7v7h-7zM308 291h7v7h-7zM315 291h7v7h-7zM322 291h7v7h-7zM329 291h7v7h-7zM313 295h7v7h-7zM320 295h7v7h-7zM327 295h7v7h-7zM334 295h7v7h-7zM341 295h7v7h-7zM325 298h7v7h-7zM333 298h7v7h-7zM341 298h7v7h-7zM348 298h7v7h-7zM356 298h7v7h-7zM352 302h7v7h-7zM363 302h7v7h-7zM375 302h7v7h-7zM387 302h7v7h-7zM398 302h7v7h-7zM365 306h7v7h-7zM369 306h7v7h-7zM379 306h7v7h-7zM383 306h7v7h-7zM393 306h7v7h-7zM398 306h7v7h-7zM407 306h7v7h-7zM412 306h7v7h-7zM421 306h7v7h-7zM426 306h7v7h-7zM385 309h7v7h-7zM396 309h7v7h-7zM406 309h7v7h-7zM417 309h7v7h-7zM427 309h7v7h-7zM406 313h7v7h-7zM414 313h7v7h-7zM423 313h7v7h-7zM431 313h7v7h-7zM439 313h7v7h-7zM434 316h7v7h-7zM441 316h7v7h-7zM448 316h7v7h-7zM455 316h7v7h-7zM462 316h7v7h-7zM434 320h7v7h-7zM443 320h7v7h-7zM451 320h7v7h-7zM460 320h7v7h-7zM468 320h7v7h-7zM474 327h7v7h-7zM482 327h7v7h-7zM490 327h7v7h-7zM498 327h7v7h-7zM506 327h7v7h-7zM490 331h7v7h-7zM498 331h7v7h-7zM505 331h7v7h-7zM513 331h7v7h-7zM521 331h7v7h-7zM493 335h7v7h-7zM501 335h7v7h-7zM509 335h7v7h-7zM517 335h7v7h-7zM525 335h7v7h-7zM499 338h7v7h-7zM506 338h7v7h-7zM513 338h7v7h-7zM519 338h7v7h-7zM526 338h7v7h-7zM500 342h7v7h-7zM508 342h7v7h-7zM516 342h7v7h-7zM525 342h7v7h-7zM533 342h7v7h-7zM523 345h7v7h-7zM540 353h7v7h-7zM543 353h7v7h-7zM538 356h7v7h-7zM542 356h7v7h-7zM551 356h7v7h-7zM560 356h7v7h-7zM540 360h7v7h-7zM543 360h7v7h-7zM557 360h7v7h-7zM561 360h7v7h-7zM537 364h7v7h-7zM553 364h7v7h-7zM561 364h7v7h-7zM565 364h7v7h-7zM537 367h7v7h-7zM546 367h7v7h-7zM549 367h7v7h-7zM562 367h7v7h-7zM566 367h7v7h-7zM538 371h7v7h-7zM548 371h7v7h-7zM552 371h7v7h-7zM561 371h7v7h-7zM565 371h7v7h-7zM549 374h7v7h-7zM551 378h7v7h-7zM555 378h7v7h-7zM549 382h7v7h-7zM558 382h7v7h-7zM541 385h7v7h-7zM545 385h7v7h-7zM549 385h7v7h-7zM558 385h7v7h-7zM546 389h7v7h-7zM552 389h7v7h-7zM561 389h7v7h-7z"/>
</g>
<g stroke="#000" stroke-width="1" fill="none" shape-rendering="crispEdges">
<rect x="84.5" y="57.5" width="525.0" height="362.0"/>
<path d="M84.0 419.5h5M610.0 419.5h-5M84.0 383.5h5M610.0 383.5h-5M84.0 347.5h5M610.0 347.5h-5M84.0 310.5h5M610.0 310.5h-5M84.0 274.5h5M610.0 274.5h-5M84.0 238.5h5M610.0 238.5h-5M84.0 202.5h5M610.0 202.5h-5M84.0 166.5h5M610.0 166.5h-5M84.0 129.5h5M610.0 129.5h-5M84.0 93.5h5M610.0 93.5h-5M84.0 57.5h5M610.0 57.5h-5M84.5 420.0v-5M84.5 57.0v5M142.5 420.0v-5M142.5 57.0v5M201.5 420.0v-5M201.5 57.0v5M259.5 420.0v-5M259.5 57.0v5M317.5 420.0v-5M317.5 57.0v5M376.5 420.0v-5M376.5 57.0v5M434.5 420.0v-5M434.5 57.0v5M492.5 420.0v-5M492.5 57.0v5M551.5 420.0v-5M551.5 57.0v5M609.5 420.0v-5M609.5 57.0v5"/>
</g>
<g font-size="16" text-anchor="end">
<text x="71.1" y="424.3">0</text>
<text x="71.1" y="388.1">10</text>
<text x="71.1" y="351.9">20</text>
<text x="71.1" y="315.7">30</text>
<text x="71.1" y="279.5">40</text>
<text x="71.1" y="243.3">50</text>
<text x="71.1" y="207.1">60</text>
<text x="71.1" y="170.9">70</text>
<text x="71.1" y="134.7">80</text>
<text x="71.1" y="98.5">90</text>
<text x="71.1" y="62.3">100</text>
</g>
<g font-size="10.45" text-anchor="middle">
<text transform="translate(84.5,437.5) rotate(-45)"><tspan dy="3.8">-5.0e-08</tspan></text>
<text transform="translate(142.8,437.5) rotate(-45)"><tspan dy="3.8">0.0e+00</tspan></text>
<text transform="translate(201.2,437.5) rotate(-45)"><tspan dy="3.8">5.0e-08</tspan></text>
<text transform="translate(259.5,437.5) rotate(-45)"><tspan dy="3.8">1.0e-07</tspan></text>
<text transform="translate(317.8,437.5) rotate(-45)"><tspan dy="3.8">1.5e-07</tspan></text>
<text transform="translate(376.2,437.5) rotate(-45)"><tspan dy="3.8">2.0e-07</tspan></text>
<text transform="translate(434.5,437.5) rotate(-45)"><tspan dy="3.8">2.5e-07</tspan></text>
<text transform="translate(492.8,437.5) rotate(-45)"><tspan dy="3.8">3.0e-07</tspan></text>
<text transform="translate(551.2,437.5) rotate(-45)"><tspan dy="3.8">3.5e-07</tspan></text>
<text transform="translate(609.5,437.5) rotate(-45)"><tspan dy="3.8">4.0e-07</tspan></text>
</g>
<text x="344.9" y="32.2" font-size="16" letter-spacing="0.033" text-anchor="middle">Occultations from 2026-02-05</text>
<text x="344.5" y="470.3" font-size="16" text-anchor="middle">N2O VMR</text>
<text transform="translate(18.6,238.5) rotate(-90)" font-size="16" text-anchor="middle">Altitude (km)</text>
</svg></body></html>
